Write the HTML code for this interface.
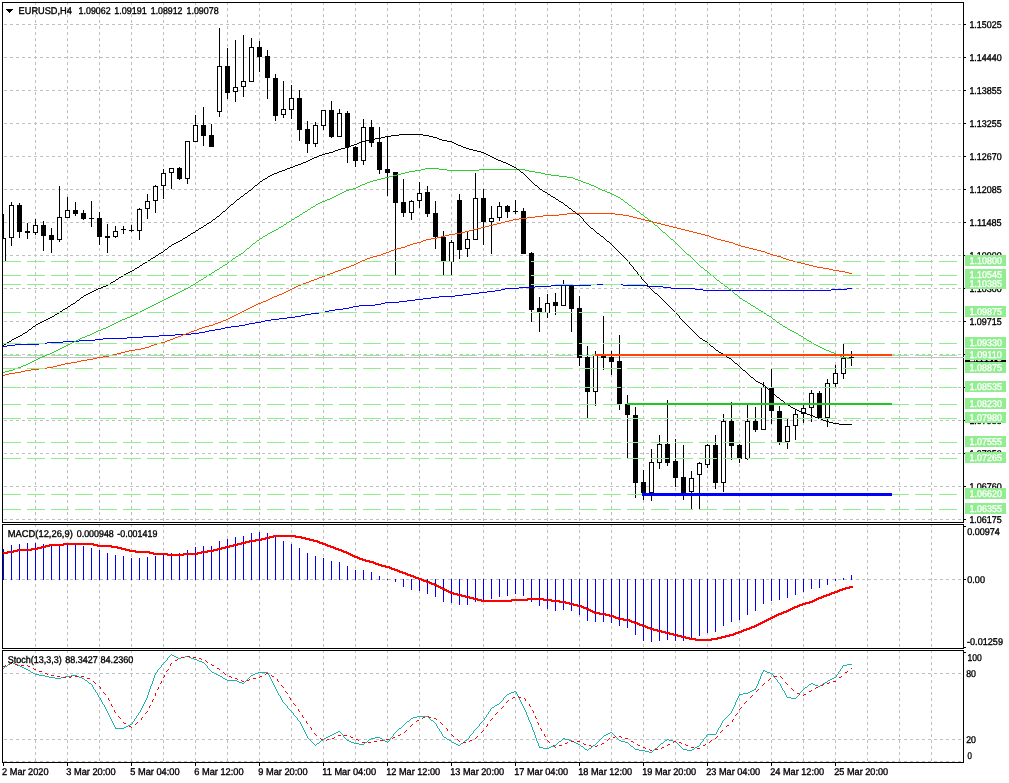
<!DOCTYPE html>
<html><head><meta charset="utf-8"><title>EURUSD,H4</title>
<style>html,body{margin:0;padding:0;background:#fff;overflow:hidden}svg{display:block}text{white-space:pre;text-rendering:geometricPrecision}</style>
</head><body>
<svg width="1009" height="783" viewBox="0 0 1009 783">
<rect width="1009" height="783" fill="#fff"/>
<g stroke="#c0c0c0" stroke-width="1" stroke-dasharray="3 3" shape-rendering="crispEdges">
<line x1="4" y1="24.5" x2="963" y2="24.5"/>
<line x1="4" y1="57.5" x2="963" y2="57.5"/>
<line x1="4" y1="90.5" x2="963" y2="90.5"/>
<line x1="4" y1="123.5" x2="963" y2="123.5"/>
<line x1="4" y1="156.5" x2="963" y2="156.5"/>
<line x1="4" y1="189.5" x2="963" y2="189.5"/>
<line x1="4" y1="222.5" x2="963" y2="222.5"/>
<line x1="4" y1="255.5" x2="963" y2="255.5"/>
<line x1="4" y1="288.5" x2="963" y2="288.5"/>
<line x1="4" y1="321.5" x2="963" y2="321.5"/>
<line x1="4" y1="354.5" x2="963" y2="354.5"/>
<line x1="4" y1="387.5" x2="963" y2="387.5"/>
<line x1="4" y1="420.5" x2="963" y2="420.5"/>
<line x1="4" y1="453.5" x2="963" y2="453.5"/>
<line x1="4" y1="486.5" x2="963" y2="486.5"/>
<line x1="4" y1="519.5" x2="963" y2="519.5"/>
<line x1="35.5" y1="2" x2="35.5" y2="522"/>
<line x1="35.5" y1="524" x2="35.5" y2="648"/>
<line x1="35.5" y1="650" x2="35.5" y2="762"/>
<line x1="67.5" y1="2" x2="67.5" y2="522"/>
<line x1="67.5" y1="524" x2="67.5" y2="648"/>
<line x1="67.5" y1="650" x2="67.5" y2="762"/>
<line x1="99.5" y1="2" x2="99.5" y2="522"/>
<line x1="99.5" y1="524" x2="99.5" y2="648"/>
<line x1="99.5" y1="650" x2="99.5" y2="762"/>
<line x1="131.5" y1="2" x2="131.5" y2="522"/>
<line x1="131.5" y1="524" x2="131.5" y2="648"/>
<line x1="131.5" y1="650" x2="131.5" y2="762"/>
<line x1="163.5" y1="2" x2="163.5" y2="522"/>
<line x1="163.5" y1="524" x2="163.5" y2="648"/>
<line x1="163.5" y1="650" x2="163.5" y2="762"/>
<line x1="195.5" y1="2" x2="195.5" y2="522"/>
<line x1="195.5" y1="524" x2="195.5" y2="648"/>
<line x1="195.5" y1="650" x2="195.5" y2="762"/>
<line x1="227.5" y1="2" x2="227.5" y2="522"/>
<line x1="227.5" y1="524" x2="227.5" y2="648"/>
<line x1="227.5" y1="650" x2="227.5" y2="762"/>
<line x1="259.5" y1="2" x2="259.5" y2="522"/>
<line x1="259.5" y1="524" x2="259.5" y2="648"/>
<line x1="259.5" y1="650" x2="259.5" y2="762"/>
<line x1="291.5" y1="2" x2="291.5" y2="522"/>
<line x1="291.5" y1="524" x2="291.5" y2="648"/>
<line x1="291.5" y1="650" x2="291.5" y2="762"/>
<line x1="323.5" y1="2" x2="323.5" y2="522"/>
<line x1="323.5" y1="524" x2="323.5" y2="648"/>
<line x1="323.5" y1="650" x2="323.5" y2="762"/>
<line x1="355.5" y1="2" x2="355.5" y2="522"/>
<line x1="355.5" y1="524" x2="355.5" y2="648"/>
<line x1="355.5" y1="650" x2="355.5" y2="762"/>
<line x1="387.5" y1="2" x2="387.5" y2="522"/>
<line x1="387.5" y1="524" x2="387.5" y2="648"/>
<line x1="387.5" y1="650" x2="387.5" y2="762"/>
<line x1="419.5" y1="2" x2="419.5" y2="522"/>
<line x1="419.5" y1="524" x2="419.5" y2="648"/>
<line x1="419.5" y1="650" x2="419.5" y2="762"/>
<line x1="451.5" y1="2" x2="451.5" y2="522"/>
<line x1="451.5" y1="524" x2="451.5" y2="648"/>
<line x1="451.5" y1="650" x2="451.5" y2="762"/>
<line x1="483.5" y1="2" x2="483.5" y2="522"/>
<line x1="483.5" y1="524" x2="483.5" y2="648"/>
<line x1="483.5" y1="650" x2="483.5" y2="762"/>
<line x1="515.5" y1="2" x2="515.5" y2="522"/>
<line x1="515.5" y1="524" x2="515.5" y2="648"/>
<line x1="515.5" y1="650" x2="515.5" y2="762"/>
<line x1="547.5" y1="2" x2="547.5" y2="522"/>
<line x1="547.5" y1="524" x2="547.5" y2="648"/>
<line x1="547.5" y1="650" x2="547.5" y2="762"/>
<line x1="579.5" y1="2" x2="579.5" y2="522"/>
<line x1="579.5" y1="524" x2="579.5" y2="648"/>
<line x1="579.5" y1="650" x2="579.5" y2="762"/>
<line x1="611.5" y1="2" x2="611.5" y2="522"/>
<line x1="611.5" y1="524" x2="611.5" y2="648"/>
<line x1="611.5" y1="650" x2="611.5" y2="762"/>
<line x1="643.5" y1="2" x2="643.5" y2="522"/>
<line x1="643.5" y1="524" x2="643.5" y2="648"/>
<line x1="643.5" y1="650" x2="643.5" y2="762"/>
<line x1="675.5" y1="2" x2="675.5" y2="522"/>
<line x1="675.5" y1="524" x2="675.5" y2="648"/>
<line x1="675.5" y1="650" x2="675.5" y2="762"/>
<line x1="707.5" y1="2" x2="707.5" y2="522"/>
<line x1="707.5" y1="524" x2="707.5" y2="648"/>
<line x1="707.5" y1="650" x2="707.5" y2="762"/>
<line x1="739.5" y1="2" x2="739.5" y2="522"/>
<line x1="739.5" y1="524" x2="739.5" y2="648"/>
<line x1="739.5" y1="650" x2="739.5" y2="762"/>
<line x1="771.5" y1="2" x2="771.5" y2="522"/>
<line x1="771.5" y1="524" x2="771.5" y2="648"/>
<line x1="771.5" y1="650" x2="771.5" y2="762"/>
<line x1="803.5" y1="2" x2="803.5" y2="522"/>
<line x1="803.5" y1="524" x2="803.5" y2="648"/>
<line x1="803.5" y1="650" x2="803.5" y2="762"/>
<line x1="835.5" y1="2" x2="835.5" y2="522"/>
<line x1="835.5" y1="524" x2="835.5" y2="648"/>
<line x1="835.5" y1="650" x2="835.5" y2="762"/>
<line x1="867.5" y1="2" x2="867.5" y2="522"/>
<line x1="867.5" y1="524" x2="867.5" y2="648"/>
<line x1="867.5" y1="650" x2="867.5" y2="762"/>
<line x1="899.5" y1="2" x2="899.5" y2="522"/>
<line x1="899.5" y1="524" x2="899.5" y2="648"/>
<line x1="899.5" y1="650" x2="899.5" y2="762"/>
<line x1="931.5" y1="2" x2="931.5" y2="522"/>
<line x1="931.5" y1="524" x2="931.5" y2="648"/>
<line x1="931.5" y1="650" x2="931.5" y2="762"/>
<line x1="4" y1="579.5" x2="963" y2="579.5"/>
<line x1="4" y1="673.5" x2="963" y2="673.5"/>
<line x1="4" y1="739.5" x2="963" y2="739.5"/>
<line x1="4" y1="761.5" x2="963" y2="761.5"/>
</g>
<line x1="3" y1="357.5" x2="963" y2="357.5" stroke="#c0c0c0" stroke-width="1" shape-rendering="crispEdges"/>
<g shape-rendering="crispEdges">
<line x1="3.5" y1="214" x2="3.5" y2="262" stroke="#000" stroke-width="1"/>
<rect x="1.5" y="238.5" width="4" height="23" fill="#fff" stroke="#000" stroke-width="1"/>
<line x1="11.5" y1="202" x2="11.5" y2="246" stroke="#000" stroke-width="1"/>
<rect x="9.5" y="205.5" width="4" height="32" fill="#fff" stroke="#000" stroke-width="1"/>
<line x1="19.5" y1="203" x2="19.5" y2="238" stroke="#000" stroke-width="1"/>
<rect x="17" y="205" width="5" height="27" fill="#000"/>
<line x1="27.5" y1="223" x2="27.5" y2="239" stroke="#000" stroke-width="1"/>
<rect x="25" y="231" width="5" height="2" fill="#000"/>
<line x1="35.5" y1="219" x2="35.5" y2="235" stroke="#000" stroke-width="1"/>
<rect x="33.5" y="225.5" width="4" height="7" fill="#fff" stroke="#000" stroke-width="1"/>
<line x1="43.5" y1="221" x2="43.5" y2="251" stroke="#000" stroke-width="1"/>
<rect x="41" y="225" width="5" height="11" fill="#000"/>
<line x1="51.5" y1="228" x2="51.5" y2="253" stroke="#000" stroke-width="1"/>
<rect x="49" y="235" width="5" height="5" fill="#000"/>
<line x1="59.5" y1="186" x2="59.5" y2="242" stroke="#000" stroke-width="1"/>
<rect x="57.5" y="217.5" width="4" height="22" fill="#fff" stroke="#000" stroke-width="1"/>
<line x1="67.5" y1="197" x2="67.5" y2="218" stroke="#000" stroke-width="1"/>
<rect x="65.5" y="210.5" width="4" height="7" fill="#fff" stroke="#000" stroke-width="1"/>
<line x1="75.5" y1="202" x2="75.5" y2="216" stroke="#000" stroke-width="1"/>
<rect x="73" y="210" width="5" height="4" fill="#000"/>
<line x1="83.5" y1="210" x2="83.5" y2="220" stroke="#000" stroke-width="1"/>
<rect x="81" y="213" width="5" height="6" fill="#000"/>
<line x1="91.5" y1="201" x2="91.5" y2="227" stroke="#000" stroke-width="1"/>
<rect x="89" y="218" width="5" height="1" fill="#000"/>
<line x1="99.5" y1="212" x2="99.5" y2="245" stroke="#000" stroke-width="1"/>
<rect x="97" y="218" width="5" height="19" fill="#000"/>
<line x1="107.5" y1="224" x2="107.5" y2="253" stroke="#000" stroke-width="1"/>
<rect x="105" y="236" width="5" height="2" fill="#000"/>
<line x1="115.5" y1="226" x2="115.5" y2="238" stroke="#000" stroke-width="1"/>
<rect x="113.5" y="231.5" width="4" height="5" fill="#fff" stroke="#000" stroke-width="1"/>
<line x1="123.5" y1="226" x2="123.5" y2="234" stroke="#000" stroke-width="1"/>
<rect x="121" y="229" width="5" height="1" fill="#000"/>
<line x1="131.5" y1="225" x2="131.5" y2="232" stroke="#000" stroke-width="1"/>
<rect x="129" y="230" width="5" height="1" fill="#000"/>
<line x1="139.5" y1="208" x2="139.5" y2="240" stroke="#000" stroke-width="1"/>
<rect x="137.5" y="209.5" width="4" height="21" fill="#fff" stroke="#000" stroke-width="1"/>
<line x1="147.5" y1="194" x2="147.5" y2="219" stroke="#000" stroke-width="1"/>
<rect x="145.5" y="201.5" width="4" height="7" fill="#fff" stroke="#000" stroke-width="1"/>
<line x1="155.5" y1="185" x2="155.5" y2="213" stroke="#000" stroke-width="1"/>
<rect x="153.5" y="186.5" width="4" height="14" fill="#fff" stroke="#000" stroke-width="1"/>
<line x1="163.5" y1="169" x2="163.5" y2="199" stroke="#000" stroke-width="1"/>
<rect x="161.5" y="173.5" width="4" height="12" fill="#fff" stroke="#000" stroke-width="1"/>
<line x1="171.5" y1="168" x2="171.5" y2="189" stroke="#000" stroke-width="1"/>
<rect x="169.5" y="168.5" width="4" height="4" fill="#fff" stroke="#000" stroke-width="1"/>
<line x1="179.5" y1="167" x2="179.5" y2="180" stroke="#000" stroke-width="1"/>
<rect x="177" y="168" width="5" height="11" fill="#000"/>
<line x1="187.5" y1="141" x2="187.5" y2="184" stroke="#000" stroke-width="1"/>
<rect x="185.5" y="141.5" width="4" height="37" fill="#fff" stroke="#000" stroke-width="1"/>
<line x1="195.5" y1="115" x2="195.5" y2="142" stroke="#000" stroke-width="1"/>
<rect x="193.5" y="125.5" width="4" height="16" fill="#fff" stroke="#000" stroke-width="1"/>
<line x1="203.5" y1="107" x2="203.5" y2="146" stroke="#000" stroke-width="1"/>
<rect x="201" y="125" width="5" height="11" fill="#000"/>
<line x1="211.5" y1="124" x2="211.5" y2="147" stroke="#000" stroke-width="1"/>
<rect x="209" y="135" width="5" height="12" fill="#000"/>
<line x1="219.5" y1="28" x2="219.5" y2="117" stroke="#000" stroke-width="1"/>
<rect x="217.5" y="66.5" width="4" height="45" fill="#fff" stroke="#000" stroke-width="1"/>
<line x1="227.5" y1="48" x2="227.5" y2="99" stroke="#000" stroke-width="1"/>
<rect x="225" y="66" width="5" height="27" fill="#000"/>
<line x1="235.5" y1="40" x2="235.5" y2="102" stroke="#000" stroke-width="1"/>
<rect x="233.5" y="87.5" width="4" height="4" fill="#fff" stroke="#000" stroke-width="1"/>
<line x1="243.5" y1="35" x2="243.5" y2="97" stroke="#000" stroke-width="1"/>
<rect x="241.5" y="81.5" width="4" height="5" fill="#fff" stroke="#000" stroke-width="1"/>
<line x1="251.5" y1="38" x2="251.5" y2="82" stroke="#000" stroke-width="1"/>
<rect x="249.5" y="47.5" width="4" height="34" fill="#fff" stroke="#000" stroke-width="1"/>
<line x1="259.5" y1="41" x2="259.5" y2="72" stroke="#000" stroke-width="1"/>
<rect x="257" y="47" width="5" height="10" fill="#000"/>
<line x1="267.5" y1="50" x2="267.5" y2="99" stroke="#000" stroke-width="1"/>
<rect x="265" y="56" width="5" height="22" fill="#000"/>
<line x1="275.5" y1="74" x2="275.5" y2="121" stroke="#000" stroke-width="1"/>
<rect x="273" y="78" width="5" height="38" fill="#000"/>
<line x1="283.5" y1="81" x2="283.5" y2="118" stroke="#000" stroke-width="1"/>
<rect x="281.5" y="109.5" width="4" height="5" fill="#fff" stroke="#000" stroke-width="1"/>
<line x1="291.5" y1="85" x2="291.5" y2="119" stroke="#000" stroke-width="1"/>
<rect x="289.5" y="98.5" width="4" height="11" fill="#fff" stroke="#000" stroke-width="1"/>
<line x1="299.5" y1="90" x2="299.5" y2="141" stroke="#000" stroke-width="1"/>
<rect x="297" y="98" width="5" height="32" fill="#000"/>
<line x1="307.5" y1="121" x2="307.5" y2="153" stroke="#000" stroke-width="1"/>
<rect x="305" y="129" width="5" height="15" fill="#000"/>
<line x1="315.5" y1="122" x2="315.5" y2="147" stroke="#000" stroke-width="1"/>
<rect x="313.5" y="125.5" width="4" height="18" fill="#fff" stroke="#000" stroke-width="1"/>
<line x1="323.5" y1="110" x2="323.5" y2="130" stroke="#000" stroke-width="1"/>
<rect x="321.5" y="110.5" width="4" height="15" fill="#fff" stroke="#000" stroke-width="1"/>
<line x1="331.5" y1="101" x2="331.5" y2="138" stroke="#000" stroke-width="1"/>
<rect x="329" y="110" width="5" height="27" fill="#000"/>
<line x1="339.5" y1="109" x2="339.5" y2="137" stroke="#000" stroke-width="1"/>
<rect x="337.5" y="113.5" width="4" height="23" fill="#fff" stroke="#000" stroke-width="1"/>
<line x1="347.5" y1="111" x2="347.5" y2="163" stroke="#000" stroke-width="1"/>
<rect x="345" y="113" width="5" height="34" fill="#000"/>
<line x1="355.5" y1="146" x2="355.5" y2="167" stroke="#000" stroke-width="1"/>
<rect x="353" y="147" width="5" height="14" fill="#000"/>
<line x1="363.5" y1="119" x2="363.5" y2="165" stroke="#000" stroke-width="1"/>
<rect x="361.5" y="127.5" width="4" height="33" fill="#fff" stroke="#000" stroke-width="1"/>
<line x1="371.5" y1="120" x2="371.5" y2="147" stroke="#000" stroke-width="1"/>
<rect x="369" y="127" width="5" height="16" fill="#000"/>
<line x1="379.5" y1="127" x2="379.5" y2="174" stroke="#000" stroke-width="1"/>
<rect x="377" y="142" width="5" height="28" fill="#000"/>
<line x1="387.5" y1="136" x2="387.5" y2="196" stroke="#000" stroke-width="1"/>
<rect x="385" y="169" width="5" height="4" fill="#000"/>
<line x1="395.5" y1="172" x2="395.5" y2="275" stroke="#000" stroke-width="1"/>
<rect x="393" y="172" width="5" height="31" fill="#000"/>
<line x1="403.5" y1="179" x2="403.5" y2="217" stroke="#000" stroke-width="1"/>
<rect x="401" y="202" width="5" height="11" fill="#000"/>
<line x1="411.5" y1="200" x2="411.5" y2="220" stroke="#000" stroke-width="1"/>
<rect x="409.5" y="201.5" width="4" height="11" fill="#fff" stroke="#000" stroke-width="1"/>
<line x1="419.5" y1="182" x2="419.5" y2="208" stroke="#000" stroke-width="1"/>
<rect x="417.5" y="193.5" width="4" height="7" fill="#fff" stroke="#000" stroke-width="1"/>
<line x1="427.5" y1="186" x2="427.5" y2="217" stroke="#000" stroke-width="1"/>
<rect x="425" y="192" width="5" height="22" fill="#000"/>
<line x1="435.5" y1="201" x2="435.5" y2="249" stroke="#000" stroke-width="1"/>
<rect x="433" y="213" width="5" height="24" fill="#000"/>
<line x1="443.5" y1="231" x2="443.5" y2="275" stroke="#000" stroke-width="1"/>
<rect x="441" y="237" width="5" height="24" fill="#000"/>
<line x1="451.5" y1="240" x2="451.5" y2="275" stroke="#000" stroke-width="1"/>
<rect x="449.5" y="242.5" width="4" height="19" fill="#fff" stroke="#000" stroke-width="1"/>
<line x1="459.5" y1="194" x2="459.5" y2="259" stroke="#000" stroke-width="1"/>
<rect x="457" y="200" width="5" height="50" fill="#000"/>
<line x1="467.5" y1="232" x2="467.5" y2="257" stroke="#000" stroke-width="1"/>
<rect x="465.5" y="239.5" width="4" height="9" fill="#fff" stroke="#000" stroke-width="1"/>
<line x1="475.5" y1="173" x2="475.5" y2="240" stroke="#000" stroke-width="1"/>
<rect x="473.5" y="198.5" width="4" height="41" fill="#fff" stroke="#000" stroke-width="1"/>
<line x1="483.5" y1="189" x2="483.5" y2="245" stroke="#000" stroke-width="1"/>
<rect x="481" y="198" width="5" height="24" fill="#000"/>
<line x1="491.5" y1="206" x2="491.5" y2="254" stroke="#000" stroke-width="1"/>
<rect x="489.5" y="218.5" width="4" height="3" fill="#fff" stroke="#000" stroke-width="1"/>
<line x1="499.5" y1="202" x2="499.5" y2="221" stroke="#000" stroke-width="1"/>
<rect x="497.5" y="206.5" width="4" height="11" fill="#fff" stroke="#000" stroke-width="1"/>
<line x1="507.5" y1="205" x2="507.5" y2="218" stroke="#000" stroke-width="1"/>
<rect x="505" y="206" width="5" height="6" fill="#000"/>
<line x1="515.5" y1="200" x2="515.5" y2="214" stroke="#000" stroke-width="1"/>
<rect x="513" y="211" width="5" height="1" fill="#000"/>
<line x1="523.5" y1="208" x2="523.5" y2="254" stroke="#000" stroke-width="1"/>
<rect x="521" y="211" width="5" height="43" fill="#000"/>
<line x1="531.5" y1="252" x2="531.5" y2="322" stroke="#000" stroke-width="1"/>
<rect x="529" y="253" width="5" height="57" fill="#000"/>
<line x1="539.5" y1="297" x2="539.5" y2="332" stroke="#000" stroke-width="1"/>
<rect x="537" y="308" width="5" height="4" fill="#000"/>
<line x1="547.5" y1="294" x2="547.5" y2="318" stroke="#000" stroke-width="1"/>
<rect x="545.5" y="303.5" width="4" height="9" fill="#fff" stroke="#000" stroke-width="1"/>
<line x1="555.5" y1="293" x2="555.5" y2="315" stroke="#000" stroke-width="1"/>
<rect x="553" y="302" width="5" height="4" fill="#000"/>
<line x1="563.5" y1="280" x2="563.5" y2="306" stroke="#000" stroke-width="1"/>
<rect x="561.5" y="285.5" width="4" height="20" fill="#fff" stroke="#000" stroke-width="1"/>
<line x1="571.5" y1="284" x2="571.5" y2="332" stroke="#000" stroke-width="1"/>
<rect x="569" y="285" width="5" height="24" fill="#000"/>
<line x1="579.5" y1="296" x2="579.5" y2="366" stroke="#000" stroke-width="1"/>
<rect x="577" y="308" width="5" height="50" fill="#000"/>
<line x1="587.5" y1="346" x2="587.5" y2="418" stroke="#000" stroke-width="1"/>
<rect x="585" y="357" width="5" height="35" fill="#000"/>
<line x1="595.5" y1="351" x2="595.5" y2="406" stroke="#000" stroke-width="1"/>
<rect x="593.5" y="355.5" width="4" height="36" fill="#fff" stroke="#000" stroke-width="1"/>
<line x1="603.5" y1="316" x2="603.5" y2="370" stroke="#000" stroke-width="1"/>
<rect x="601" y="356" width="5" height="2" fill="#000"/>
<line x1="611.5" y1="351" x2="611.5" y2="375" stroke="#000" stroke-width="1"/>
<rect x="609" y="357" width="5" height="5" fill="#000"/>
<line x1="619.5" y1="335" x2="619.5" y2="410" stroke="#000" stroke-width="1"/>
<rect x="617" y="361" width="5" height="43" fill="#000"/>
<line x1="627.5" y1="395" x2="627.5" y2="459" stroke="#000" stroke-width="1"/>
<rect x="625" y="404" width="5" height="11" fill="#000"/>
<line x1="635.5" y1="407" x2="635.5" y2="498" stroke="#000" stroke-width="1"/>
<rect x="633" y="415" width="5" height="68" fill="#000"/>
<line x1="643.5" y1="470" x2="643.5" y2="500" stroke="#000" stroke-width="1"/>
<rect x="641" y="482" width="5" height="11" fill="#000"/>
<line x1="651.5" y1="449" x2="651.5" y2="501" stroke="#000" stroke-width="1"/>
<rect x="649.5" y="462.5" width="4" height="30" fill="#fff" stroke="#000" stroke-width="1"/>
<line x1="659.5" y1="435" x2="659.5" y2="469" stroke="#000" stroke-width="1"/>
<rect x="657.5" y="444.5" width="4" height="18" fill="#fff" stroke="#000" stroke-width="1"/>
<line x1="667.5" y1="400" x2="667.5" y2="466" stroke="#000" stroke-width="1"/>
<rect x="665" y="444" width="5" height="19" fill="#000"/>
<line x1="675.5" y1="439" x2="675.5" y2="487" stroke="#000" stroke-width="1"/>
<rect x="673" y="461" width="5" height="17" fill="#000"/>
<line x1="683.5" y1="445" x2="683.5" y2="500" stroke="#000" stroke-width="1"/>
<rect x="681" y="477" width="5" height="16" fill="#000"/>
<line x1="691.5" y1="471" x2="691.5" y2="509" stroke="#000" stroke-width="1"/>
<rect x="689.5" y="478.5" width="4" height="13" fill="#fff" stroke="#000" stroke-width="1"/>
<line x1="699.5" y1="462" x2="699.5" y2="509" stroke="#000" stroke-width="1"/>
<rect x="697.5" y="463.5" width="4" height="11" fill="#fff" stroke="#000" stroke-width="1"/>
<line x1="707.5" y1="444" x2="707.5" y2="468" stroke="#000" stroke-width="1"/>
<rect x="705.5" y="445.5" width="4" height="19" fill="#fff" stroke="#000" stroke-width="1"/>
<line x1="715.5" y1="435" x2="715.5" y2="489" stroke="#000" stroke-width="1"/>
<rect x="713" y="445" width="5" height="38" fill="#000"/>
<line x1="723.5" y1="414" x2="723.5" y2="492" stroke="#000" stroke-width="1"/>
<rect x="721.5" y="421.5" width="4" height="61" fill="#fff" stroke="#000" stroke-width="1"/>
<line x1="731.5" y1="402" x2="731.5" y2="460" stroke="#000" stroke-width="1"/>
<rect x="729" y="421" width="5" height="25" fill="#000"/>
<line x1="739.5" y1="444" x2="739.5" y2="463" stroke="#000" stroke-width="1"/>
<rect x="737" y="445" width="5" height="14" fill="#000"/>
<line x1="747.5" y1="405" x2="747.5" y2="460" stroke="#000" stroke-width="1"/>
<rect x="745.5" y="421.5" width="4" height="37" fill="#fff" stroke="#000" stroke-width="1"/>
<line x1="755.5" y1="407" x2="755.5" y2="432" stroke="#000" stroke-width="1"/>
<rect x="753" y="421" width="5" height="9" fill="#000"/>
<line x1="763.5" y1="382" x2="763.5" y2="430" stroke="#000" stroke-width="1"/>
<rect x="761.5" y="387.5" width="4" height="42" fill="#fff" stroke="#000" stroke-width="1"/>
<line x1="771.5" y1="369" x2="771.5" y2="424" stroke="#000" stroke-width="1"/>
<rect x="769" y="388" width="5" height="23" fill="#000"/>
<line x1="779.5" y1="406" x2="779.5" y2="445" stroke="#000" stroke-width="1"/>
<rect x="777" y="411" width="5" height="31" fill="#000"/>
<line x1="787.5" y1="419" x2="787.5" y2="449" stroke="#000" stroke-width="1"/>
<rect x="785.5" y="426.5" width="4" height="15" fill="#fff" stroke="#000" stroke-width="1"/>
<line x1="795.5" y1="410" x2="795.5" y2="440" stroke="#000" stroke-width="1"/>
<rect x="793.5" y="414.5" width="4" height="11" fill="#fff" stroke="#000" stroke-width="1"/>
<line x1="803.5" y1="405" x2="803.5" y2="423" stroke="#000" stroke-width="1"/>
<rect x="801.5" y="408.5" width="4" height="5" fill="#fff" stroke="#000" stroke-width="1"/>
<line x1="811.5" y1="390" x2="811.5" y2="422" stroke="#000" stroke-width="1"/>
<rect x="809.5" y="393.5" width="4" height="14" fill="#fff" stroke="#000" stroke-width="1"/>
<line x1="819.5" y1="391" x2="819.5" y2="418" stroke="#000" stroke-width="1"/>
<rect x="817" y="393" width="5" height="25" fill="#000"/>
<line x1="827.5" y1="379" x2="827.5" y2="427" stroke="#000" stroke-width="1"/>
<rect x="825.5" y="383.5" width="4" height="34" fill="#fff" stroke="#000" stroke-width="1"/>
<line x1="835.5" y1="365" x2="835.5" y2="387" stroke="#000" stroke-width="1"/>
<rect x="833.5" y="373.5" width="4" height="10" fill="#fff" stroke="#000" stroke-width="1"/>
<line x1="843.5" y1="344" x2="843.5" y2="379" stroke="#000" stroke-width="1"/>
<rect x="841.5" y="358.5" width="4" height="15" fill="#fff" stroke="#000" stroke-width="1"/>
<line x1="851.5" y1="351" x2="851.5" y2="366" stroke="#000" stroke-width="1"/>
<rect x="849" y="357" width="5" height="1" fill="#000"/>
</g>
<path d="M591 284h32v1h-32zM551 285h40v1h-40zM623 285h24v1h-24zM535 286h16v1h-16zM647 286h16v1h-16zM519 287h16v1h-16zM663 287h8v1h-8zM505 288h14v1h-14zM671 288h24v1h-24zM847 288h5v1h-5zM501 289h4v1h-4zM695 289h8v1h-8zM831 289h16v1h-16zM495 290h6v1h-6zM703 290h128v1h-128zM487 291h8v1h-8zM479 292h8v1h-8zM471 293h8v1h-8zM463 294h8v1h-8zM455 295h8v1h-8zM439 296h16v1h-16zM431 297h8v1h-8zM423 298h8v1h-8zM415 299h8v1h-8zM407 300h8v1h-8zM399 301h8v1h-8zM385 302h14v1h-14zM381 303h4v1h-4zM375 304h6v1h-6zM359 305h16v1h-16zM353 306h6v1h-6zM349 307h4v1h-4zM343 308h6v1h-6zM335 309h8v1h-8zM329 310h6v1h-6zM325 311h4v1h-4zM319 312h6v1h-6zM311 313h8v1h-8zM305 314h6v1h-6zM301 315h4v1h-4zM295 316h6v1h-6zM287 317h8v1h-8zM279 318h8v1h-8zM271 319h8v1h-8zM265 320h6v1h-6zM261 321h4v1h-4zM255 322h6v1h-6zM249 323h6v1h-6zM245 324h4v1h-4zM239 325h6v1h-6zM231 326h8v1h-8zM225 327h6v1h-6zM221 328h4v1h-4zM215 329h6v1h-6zM209 330h6v1h-6zM205 331h4v1h-4zM199 332h6v1h-6zM191 333h8v1h-8zM175 334h16v1h-16zM159 335h16v1h-16zM143 336h16v1h-16zM127 337h16v1h-16zM103 338h24v1h-24zM95 339h8v1h-8zM79 340h16v1h-16zM63 341h16v1h-16zM47 342h16v1h-16zM39 343h8v1h-8zM15 344h24v1h-24zM7 345h8v1h-8zM3 346h4v1h-4z" fill="#0000ff" shape-rendering="crispEdges"/>
<path d="M567 213h48v1h-48zM559 214h8v1h-8zM615 214h8v1h-8zM543 215h16v1h-16zM623 215h6v1h-6zM535 216h8v1h-8zM629 216h4v1h-4zM527 217h8v1h-8zM633 217h4v1h-4zM519 218h8v1h-8zM637 218h4v1h-4zM513 219h6v1h-6zM641 219h4v1h-4zM509 220h4v1h-4zM645 220h4v1h-4zM505 221h4v1h-4zM649 221h4v1h-4zM501 222h4v1h-4zM653 222h4v1h-4zM497 223h4v1h-4zM657 223h4v1h-4zM493 224h4v1h-4zM661 224h4v1h-4zM489 225h4v1h-4zM665 225h4v1h-4zM485 226h4v1h-4zM669 226h4v1h-4zM481 227h4v1h-4zM673 227h4v1h-4zM477 228h4v1h-4zM677 228h4v1h-4zM473 229h4v1h-4zM681 229h4v1h-4zM469 230h4v1h-4zM685 230h4v1h-4zM465 231h4v1h-4zM689 231h4v1h-4zM461 232h4v1h-4zM693 232h4v1h-4zM455 233h6v1h-6zM697 233h4v1h-4zM449 234h6v1h-6zM701 234h4v1h-4zM445 235h4v1h-4zM705 235h4v1h-4zM441 236h4v1h-4zM709 236h2v1h-2zM437 237h4v1h-4zM711 237h3v1h-3zM431 238h6v1h-6zM714 238h3v1h-3zM426 239h5v1h-5zM717 239h4v1h-4zM423 240h3v1h-3zM721 240h4v1h-4zM421 241h2v1h-2zM725 241h4v1h-4zM417 242h4v1h-4zM729 242h4v1h-4zM413 243h4v1h-4zM733 243h2v1h-2zM410 244h3v1h-3zM735 244h3v1h-3zM407 245h3v1h-3zM738 245h3v1h-3zM405 246h2v1h-2zM741 246h4v1h-4zM401 247h4v1h-4zM745 247h4v1h-4zM397 248h4v1h-4zM749 248h4v1h-4zM394 249h3v1h-3zM753 249h4v1h-4zM391 250h3v1h-3zM757 250h4v1h-4zM389 251h2v1h-2zM761 251h4v1h-4zM386 252h3v1h-3zM765 252h2v1h-2zM383 253h3v1h-3zM767 253h3v1h-3zM381 254h2v1h-2zM770 254h3v1h-3zM377 255h4v1h-4zM773 255h4v1h-4zM373 256h4v1h-4zM777 256h4v1h-4zM370 257h3v1h-3zM781 257h2v1h-2zM367 258h3v1h-3zM783 258h3v1h-3zM365 259h2v1h-2zM786 259h3v1h-3zM362 260h3v1h-3zM789 260h4v1h-4zM360 261h2v1h-2zM793 261h4v1h-4zM358 262h2v1h-2zM797 262h4v1h-4zM356 263h2v1h-2zM801 263h4v1h-4zM354 264h2v1h-2zM805 264h4v1h-4zM351 265h3v1h-3zM809 265h4v1h-4zM349 266h2v1h-2zM813 266h4v1h-4zM346 267h3v1h-3zM817 267h6v1h-6zM343 268h3v1h-3zM823 268h6v1h-6zM341 269h2v1h-2zM829 269h4v1h-4zM338 270h3v1h-3zM833 270h6v1h-6zM335 271h3v1h-3zM839 271h6v1h-6zM333 272h2v1h-2zM845 272h4v1h-4zM330 273h3v1h-3zM849 273h3v1h-3zM327 274h3v1h-3zM325 275h2v1h-2zM322 276h3v1h-3zM319 277h3v1h-3zM317 278h2v1h-2zM314 279h3v1h-3zM311 280h3v1h-3zM309 281h2v1h-2zM306 282h3v1h-3zM303 283h3v1h-3zM301 284h2v1h-2zM298 285h3v1h-3zM296 286h2v1h-2zM294 287h2v1h-2zM292 288h2v1h-2zM290 289h2v1h-2zM288 290h2v1h-2zM286 291h2v1h-2zM284 292h2v1h-2zM282 293h2v1h-2zM279 294h3v1h-3zM277 295h2v1h-2zM274 296h3v1h-3zM272 297h2v1h-2zM270 298h2v1h-2zM268 299h2v1h-2zM266 300h2v1h-2zM263 301h3v1h-3zM261 302h2v1h-2zM258 303h3v1h-3zM256 304h2v1h-2zM254 305h2v1h-2zM252 306h2v1h-2zM250 307h2v1h-2zM248 308h2v1h-2zM246 309h2v1h-2zM244 310h2v1h-2zM242 311h2v1h-2zM240 312h2v1h-2zM238 313h2v1h-2zM236 314h2v1h-2zM234 315h2v1h-2zM232 316h2v1h-2zM230 317h2v1h-2zM228 318h2v1h-2zM226 319h2v1h-2zM223 320h3v1h-3zM221 321h2v1h-2zM218 322h3v1h-3zM215 323h3v1h-3zM213 324h2v1h-2zM209 325h4v1h-4zM205 326h4v1h-4zM202 327h3v1h-3zM199 328h3v1h-3zM197 329h2v1h-2zM194 330h3v1h-3zM191 331h3v1h-3zM189 332h2v1h-2zM186 333h3v1h-3zM183 334h3v1h-3zM181 335h2v1h-2zM178 336h3v1h-3zM175 337h3v1h-3zM173 338h2v1h-2zM170 339h3v1h-3zM167 340h3v1h-3zM165 341h2v1h-2zM161 342h4v1h-4zM157 343h4v1h-4zM154 344h3v1h-3zM151 345h3v1h-3zM149 346h2v1h-2zM145 347h4v1h-4zM141 348h4v1h-4zM135 349h6v1h-6zM129 350h6v1h-6zM125 351h4v1h-4zM121 352h4v1h-4zM117 353h4v1h-4zM113 354h4v1h-4zM109 355h4v1h-4zM103 356h6v1h-6zM97 357h6v1h-6zM93 358h4v1h-4zM87 359h6v1h-6zM81 360h6v1h-6zM77 361h4v1h-4zM71 362h6v1h-6zM65 363h6v1h-6zM61 364h4v1h-4zM57 365h4v1h-4zM53 366h4v1h-4zM47 367h6v1h-6zM39 368h8v1h-8zM31 369h8v1h-8zM25 370h6v1h-6zM21 371h4v1h-4zM15 372h6v1h-6zM9 373h6v1h-6zM5 374h4v1h-4zM3 375h2v1h-2z" fill="#ff4500" shape-rendering="crispEdges"/>
<path d="M425 168h14v1h-14zM421 169h4v1h-4zM439 169h8v1h-8zM479 169h46v1h-46zM415 170h6v1h-6zM447 170h32v1h-32zM525 170h4v1h-4zM409 171h6v1h-6zM529 171h6v1h-6zM405 172h4v1h-4zM535 172h6v1h-6zM401 173h4v1h-4zM541 173h4v1h-4zM397 174h4v1h-4zM545 174h6v1h-6zM393 175h4v1h-4zM551 175h8v1h-8zM389 176h4v1h-4zM559 176h8v1h-8zM385 177h4v1h-4zM567 177h6v1h-6zM381 178h4v1h-4zM573 178h2v1h-2zM377 179h4v1h-4zM575 179h3v1h-3zM373 180h4v1h-4zM578 180h3v1h-3zM370 181h3v1h-3zM581 181h2v1h-2zM367 182h3v1h-3zM583 182h3v1h-3zM365 183h2v1h-2zM586 183h3v1h-3zM362 184h3v1h-3zM589 184h2v1h-2zM360 185h2v1h-2zM591 185h3v1h-3zM358 186h2v1h-2zM594 186h2v1h-2zM356 187h2v1h-2zM596 187h2v1h-2zM353 188h3v1h-3zM598 188h2v1h-2zM349 189h4v1h-4zM600 189h2v1h-2zM346 190h3v1h-3zM602 190h3v1h-3zM344 191h2v1h-2zM605 191h2v1h-2zM342 192h2v1h-2zM607 192h3v1h-3zM340 193h2v1h-2zM610 193h2v1h-2zM338 194h2v1h-2zM612 194h2v1h-2zM336 195h2v1h-2zM614 195h2v1h-2zM334 196h2v1h-2zM616 196h2v1h-2zM332 197h2v1h-2zM618 197h2v1h-2zM330 198h2v1h-2zM620 198h1v1h-1zM327 199h3v1h-3zM621 199h2v1h-2zM325 200h2v1h-2zM623 200h1v1h-1zM322 201h3v1h-3zM624 201h1v1h-1zM320 202h2v1h-2zM625 202h2v1h-2zM318 203h2v1h-2zM627 203h1v1h-1zM316 204h2v1h-2zM628 204h1v1h-1zM315 205h1v1h-1zM629 205h2v1h-2zM313 206h2v1h-2zM631 206h1v1h-1zM311 207h2v1h-2zM632 207h1v1h-1zM310 208h1v1h-1zM633 208h2v1h-2zM308 209h2v1h-2zM635 209h1v1h-1zM307 210h1v1h-1zM636 210h1v1h-1zM305 211h2v1h-2zM637 211h2v1h-2zM303 212h2v1h-2zM639 212h1v1h-1zM302 213h1v1h-1zM640 213h1v1h-1zM300 214h2v1h-2zM641 214h2v1h-2zM299 215h1v1h-1zM643 215h1v1h-1zM297 216h2v1h-2zM644 216h1v1h-1zM295 217h2v1h-2zM645 217h2v1h-2zM294 218h1v1h-1zM647 218h1v1h-1zM292 219h2v1h-2zM648 219h1v1h-1zM291 220h1v1h-1zM649 220h2v1h-2zM289 221h2v1h-2zM651 221h1v1h-1zM287 222h2v1h-2zM652 222h1v1h-1zM286 223h1v1h-1zM653 223h1v1h-1zM284 224h2v1h-2zM654 224h1v1h-1zM283 225h1v1h-1zM655 225h2v1h-2zM281 226h2v1h-2zM657 226h1v1h-1zM279 227h2v1h-2zM658 227h1v1h-1zM278 228h1v1h-1zM659 228h1v1h-1zM276 229h2v1h-2zM660 229h1v1h-1zM274 230h2v1h-2zM661 230h1v1h-1zM272 231h2v1h-2zM662 231h1v1h-1zM270 232h2v1h-2zM663 232h2v1h-2zM268 233h2v1h-2zM665 233h1v1h-1zM267 234h1v1h-1zM666 234h1v1h-1zM265 235h2v1h-2zM667 235h1v1h-1zM263 236h2v1h-2zM668 236h1v1h-1zM262 237h1v1h-1zM669 237h1v1h-1zM260 238h2v1h-2zM670 238h1v1h-1zM259 239h1v1h-1zM671 239h2v1h-2zM257 240h2v1h-2zM673 240h1v1h-1zM256 241h1v1h-1zM674 241h1v1h-1zM255 242h1v1h-1zM675 242h1v1h-1zM253 243h2v1h-2zM676 243h1v1h-1zM252 244h1v1h-1zM677 244h1v1h-1zM251 245h1v1h-1zM678 245h1v1h-1zM250 246h1v1h-1zM679 246h1v1h-1zM249 247h1v1h-1zM680 247h1v1h-1zM247 248h2v1h-2zM681 248h1v1h-1zM246 249h1v1h-1zM682 249h1v1h-1zM245 250h1v1h-1zM683 250h1v1h-1zM244 251h1v1h-1zM684 251h1v1h-1zM243 252h1v1h-1zM685 252h1v1h-1zM241 253h2v1h-2zM686 253h1v1h-1zM239 254h2v1h-2zM687 254h2v1h-2zM238 255h1v1h-1zM689 255h1v1h-1zM236 256h2v1h-2zM690 256h1v1h-1zM235 257h1v1h-1zM691 257h1v1h-1zM233 258h2v1h-2zM692 258h1v1h-1zM232 259h1v1h-1zM693 259h1v1h-1zM231 260h1v1h-1zM694 260h1v1h-1zM229 261h2v1h-2zM695 261h1v1h-1zM228 262h1v1h-1zM696 262h1v1h-1zM227 263h1v1h-1zM697 263h1v1h-1zM225 264h2v1h-2zM698 264h1v1h-1zM223 265h2v1h-2zM699 265h1v1h-1zM222 266h1v1h-1zM700 266h1v1h-1zM220 267h2v1h-2zM701 267h2v1h-2zM219 268h1v1h-1zM703 268h1v1h-1zM217 269h2v1h-2zM704 269h1v1h-1zM215 270h2v1h-2zM705 270h2v1h-2zM214 271h1v1h-1zM707 271h1v1h-1zM212 272h2v1h-2zM708 272h1v1h-1zM211 273h1v1h-1zM709 273h1v1h-1zM209 274h2v1h-2zM710 274h1v1h-1zM207 275h2v1h-2zM711 275h2v1h-2zM206 276h1v1h-1zM713 276h1v1h-1zM204 277h2v1h-2zM714 277h1v1h-1zM203 278h1v1h-1zM715 278h1v1h-1zM201 279h2v1h-2zM716 279h1v1h-1zM199 280h2v1h-2zM717 280h2v1h-2zM198 281h1v1h-1zM719 281h1v1h-1zM196 282h2v1h-2zM720 282h1v1h-1zM195 283h1v1h-1zM721 283h2v1h-2zM193 284h2v1h-2zM723 284h1v1h-1zM191 285h2v1h-2zM724 285h1v1h-1zM190 286h1v1h-1zM725 286h2v1h-2zM188 287h2v1h-2zM727 287h1v1h-1zM186 288h2v1h-2zM728 288h1v1h-1zM184 289h2v1h-2zM729 289h2v1h-2zM182 290h2v1h-2zM731 290h1v1h-1zM180 291h2v1h-2zM732 291h1v1h-1zM178 292h2v1h-2zM733 292h1v1h-1zM176 293h2v1h-2zM734 293h1v1h-1zM174 294h2v1h-2zM735 294h2v1h-2zM172 295h2v1h-2zM737 295h1v1h-1zM170 296h2v1h-2zM738 296h1v1h-1zM168 297h2v1h-2zM739 297h1v1h-1zM166 298h2v1h-2zM740 298h2v1h-2zM164 299h2v1h-2zM742 299h1v1h-1zM162 300h2v1h-2zM743 300h2v1h-2zM160 301h2v1h-2zM745 301h2v1h-2zM158 302h2v1h-2zM747 302h1v1h-1zM156 303h2v1h-2zM748 303h2v1h-2zM154 304h2v1h-2zM750 304h1v1h-1zM152 305h2v1h-2zM751 305h2v1h-2zM150 306h2v1h-2zM753 306h2v1h-2zM148 307h2v1h-2zM755 307h1v1h-1zM146 308h2v1h-2zM756 308h2v1h-2zM144 309h2v1h-2zM758 309h1v1h-1zM142 310h2v1h-2zM759 310h2v1h-2zM140 311h2v1h-2zM761 311h2v1h-2zM138 312h2v1h-2zM763 312h1v1h-1zM136 313h2v1h-2zM764 313h2v1h-2zM134 314h2v1h-2zM766 314h1v1h-1zM132 315h2v1h-2zM767 315h2v1h-2zM130 316h2v1h-2zM769 316h2v1h-2zM127 317h3v1h-3zM771 317h1v1h-1zM125 318h2v1h-2zM772 318h1v1h-1zM122 319h3v1h-3zM773 319h2v1h-2zM120 320h2v1h-2zM775 320h1v1h-1zM118 321h2v1h-2zM776 321h1v1h-1zM116 322h2v1h-2zM777 322h2v1h-2zM114 323h2v1h-2zM779 323h1v1h-1zM112 324h2v1h-2zM780 324h2v1h-2zM110 325h2v1h-2zM782 325h1v1h-1zM108 326h2v1h-2zM783 326h2v1h-2zM106 327h2v1h-2zM785 327h2v1h-2zM103 328h3v1h-3zM787 328h1v1h-1zM101 329h2v1h-2zM788 329h2v1h-2zM98 330h3v1h-3zM790 330h2v1h-2zM96 331h2v1h-2zM792 331h2v1h-2zM94 332h2v1h-2zM794 332h2v1h-2zM92 333h2v1h-2zM796 333h2v1h-2zM90 334h2v1h-2zM798 334h1v1h-1zM87 335h3v1h-3zM799 335h2v1h-2zM85 336h2v1h-2zM801 336h2v1h-2zM82 337h3v1h-3zM803 337h1v1h-1zM80 338h2v1h-2zM804 338h2v1h-2zM78 339h2v1h-2zM806 339h1v1h-1zM76 340h2v1h-2zM807 340h2v1h-2zM74 341h2v1h-2zM809 341h2v1h-2zM72 342h2v1h-2zM811 342h1v1h-1zM70 343h2v1h-2zM812 343h2v1h-2zM68 344h2v1h-2zM814 344h2v1h-2zM66 345h2v1h-2zM816 345h2v1h-2zM64 346h2v1h-2zM818 346h2v1h-2zM62 347h2v1h-2zM820 347h2v1h-2zM60 348h2v1h-2zM822 348h2v1h-2zM58 349h2v1h-2zM824 349h2v1h-2zM56 350h2v1h-2zM826 350h3v1h-3zM54 351h2v1h-2zM829 351h2v1h-2zM52 352h2v1h-2zM831 352h3v1h-3zM50 353h2v1h-2zM834 353h2v1h-2zM47 354h3v1h-3zM836 354h2v1h-2zM45 355h2v1h-2zM838 355h2v1h-2zM42 356h3v1h-3zM840 356h2v1h-2zM40 357h2v1h-2zM842 357h5v1h-5zM38 358h2v1h-2zM847 358h5v1h-5zM36 359h2v1h-2zM34 360h2v1h-2zM32 361h2v1h-2zM30 362h2v1h-2zM28 363h2v1h-2zM26 364h2v1h-2zM23 365h3v1h-3zM21 366h2v1h-2zM18 367h3v1h-3zM15 368h3v1h-3zM13 369h2v1h-2zM9 370h4v1h-4zM5 371h4v1h-4zM3 372h2v1h-2z" fill="#32cd32" shape-rendering="crispEdges"/>
<path d="M399 134h24v1h-24zM391 135h8v1h-8zM423 135h6v1h-6zM385 136h6v1h-6zM429 136h4v1h-4zM381 137h4v1h-4zM433 137h4v1h-4zM375 138h6v1h-6zM437 138h2v1h-2zM369 139h6v1h-6zM439 139h3v1h-3zM365 140h4v1h-4zM442 140h5v1h-5zM362 141h3v1h-3zM447 141h5v1h-5zM359 142h3v1h-3zM452 142h2v1h-2zM357 143h2v1h-2zM454 143h2v1h-2zM354 144h3v1h-3zM456 144h2v1h-2zM351 145h3v1h-3zM458 145h3v1h-3zM349 146h2v1h-2zM461 146h2v1h-2zM345 147h4v1h-4zM463 147h3v1h-3zM341 148h4v1h-4zM466 148h3v1h-3zM338 149h3v1h-3zM469 149h4v1h-4zM335 150h3v1h-3zM473 150h4v1h-4zM333 151h2v1h-2zM477 151h4v1h-4zM329 152h4v1h-4zM481 152h3v1h-3zM325 153h4v1h-4zM484 153h2v1h-2zM322 154h3v1h-3zM486 154h2v1h-2zM319 155h3v1h-3zM488 155h2v1h-2zM317 156h2v1h-2zM490 156h2v1h-2zM314 157h3v1h-3zM492 157h2v1h-2zM312 158h2v1h-2zM494 158h2v1h-2zM310 159h2v1h-2zM496 159h2v1h-2zM308 160h2v1h-2zM498 160h3v1h-3zM306 161h2v1h-2zM501 161h2v1h-2zM303 162h3v1h-3zM503 162h3v1h-3zM301 163h2v1h-2zM506 163h2v1h-2zM298 164h3v1h-3zM508 164h2v1h-2zM295 165h3v1h-3zM510 165h2v1h-2zM293 166h2v1h-2zM512 166h2v1h-2zM290 167h3v1h-3zM514 167h2v1h-2zM287 168h3v1h-3zM516 168h1v1h-1zM285 169h2v1h-2zM517 169h2v1h-2zM282 170h3v1h-3zM519 170h1v1h-1zM279 171h3v1h-3zM520 171h1v1h-1zM277 172h2v1h-2zM521 172h2v1h-2zM274 173h3v1h-3zM523 173h1v1h-1zM272 174h2v1h-2zM524 174h1v1h-1zM270 175h2v1h-2zM525 175h1v1h-1zM268 176h2v1h-2zM526 176h1v1h-1zM267 177h1v1h-1zM527 177h1v1h-1zM265 178h2v1h-2zM528 178h1v1h-1zM263 179h2v1h-2zM529 179h1v1h-1zM262 180h1v1h-1zM530 180h1v1h-1zM260 181h2v1h-2zM531 181h1v1h-1zM259 182h1v1h-1zM532 182h1v1h-1zM258 183h1v1h-1zM533 183h1v1h-1zM257 184h1v1h-1zM534 184h1v1h-1zM255 185h2v1h-2zM535 185h2v1h-2zM254 186h1v1h-1zM537 186h1v1h-1zM253 187h1v1h-1zM538 187h1v1h-1zM252 188h1v1h-1zM539 188h1v1h-1zM251 189h1v1h-1zM540 189h2v1h-2zM249 190h2v1h-2zM542 190h1v1h-1zM248 191h1v1h-1zM543 191h2v1h-2zM247 192h1v1h-1zM545 192h2v1h-2zM245 193h2v1h-2zM547 193h1v1h-1zM244 194h1v1h-1zM548 194h2v1h-2zM243 195h1v1h-1zM550 195h1v1h-1zM241 196h2v1h-2zM551 196h2v1h-2zM240 197h1v1h-1zM553 197h2v1h-2zM239 198h1v1h-1zM555 198h1v1h-1zM237 199h2v1h-2zM556 199h2v1h-2zM236 200h1v1h-1zM558 200h1v1h-1zM235 201h1v1h-1zM559 201h2v1h-2zM234 202h1v1h-1zM561 202h2v1h-2zM233 203h1v1h-1zM563 203h1v1h-1zM231 204h2v1h-2zM564 204h1v1h-1zM230 205h1v1h-1zM565 205h2v1h-2zM229 206h1v1h-1zM567 206h1v1h-1zM228 207h1v1h-1zM568 207h1v1h-1zM227 208h1v1h-1zM569 208h2v1h-2zM226 209h1v1h-1zM571 209h1v1h-1zM225 210h1v1h-1zM572 210h1v1h-1zM223 211h2v1h-2zM573 211h2v1h-2zM222 212h1v1h-1zM575 212h1v1h-1zM221 213h1v1h-1zM576 213h1v1h-1zM220 214h1v1h-1zM577 214h2v1h-2zM219 215h1v1h-1zM579 215h1v1h-1zM217 216h2v1h-2zM580 216h1v1h-1zM216 217h1v1h-1zM581 217h1v1h-1zM215 218h1v1h-1zM582 218h1v1h-1zM213 219h2v1h-2zM583 219h1v1h-1zM212 220h1v1h-1zM583 220h1v1h-1zM211 221h1v1h-1zM584 221h1v1h-1zM209 222h2v1h-2zM585 222h1v1h-1zM207 223h2v1h-2zM586 223h1v1h-1zM206 224h1v1h-1zM587 224h1v1h-1zM204 225h2v1h-2zM588 225h1v1h-1zM203 226h1v1h-1zM589 226h1v1h-1zM201 227h2v1h-2zM590 227h1v1h-1zM199 228h2v1h-2zM591 228h2v1h-2zM198 229h1v1h-1zM593 229h1v1h-1zM196 230h2v1h-2zM594 230h1v1h-1zM195 231h1v1h-1zM595 231h1v1h-1zM193 232h2v1h-2zM596 232h1v1h-1zM191 233h2v1h-2zM597 233h2v1h-2zM190 234h1v1h-1zM599 234h1v1h-1zM188 235h2v1h-2zM600 235h1v1h-1zM187 236h1v1h-1zM601 236h2v1h-2zM185 237h2v1h-2zM603 237h1v1h-1zM183 238h2v1h-2zM604 238h1v1h-1zM182 239h1v1h-1zM605 239h1v1h-1zM180 240h2v1h-2zM606 240h1v1h-1zM178 241h2v1h-2zM607 241h2v1h-2zM176 242h2v1h-2zM609 242h1v1h-1zM174 243h2v1h-2zM610 243h1v1h-1zM172 244h2v1h-2zM611 244h1v1h-1zM171 245h1v1h-1zM612 245h1v1h-1zM169 246h2v1h-2zM613 246h1v1h-1zM168 247h1v1h-1zM614 247h1v1h-1zM167 248h1v1h-1zM615 248h1v1h-1zM165 249h2v1h-2zM616 249h1v1h-1zM164 250h1v1h-1zM617 250h1v1h-1zM163 251h1v1h-1zM618 251h1v1h-1zM161 252h2v1h-2zM619 252h1v1h-1zM159 253h2v1h-2zM620 253h1v1h-1zM158 254h1v1h-1zM621 254h1v1h-1zM156 255h2v1h-2zM622 255h1v1h-1zM155 256h1v1h-1zM623 256h1v1h-1zM153 257h2v1h-2zM624 257h1v1h-1zM151 258h2v1h-2zM625 258h1v1h-1zM150 259h1v1h-1zM626 259h1v1h-1zM148 260h2v1h-2zM627 260h1v1h-1zM147 261h1v1h-1zM628 261h1v1h-1zM145 262h2v1h-2zM629 262h1v1h-1zM143 263h2v1h-2zM629 263h1v1h-1zM142 264h1v1h-1zM630 264h1v1h-1zM140 265h2v1h-2zM631 265h1v1h-1zM139 266h1v1h-1zM632 266h1v1h-1zM137 267h2v1h-2zM633 267h1v1h-1zM135 268h2v1h-2zM633 268h1v1h-1zM134 269h1v1h-1zM634 269h1v1h-1zM132 270h2v1h-2zM635 270h1v1h-1zM130 271h2v1h-2zM636 271h1v1h-1zM128 272h2v1h-2zM637 272h1v1h-1zM126 273h2v1h-2zM637 273h1v1h-1zM124 274h2v1h-2zM638 274h1v1h-1zM123 275h1v1h-1zM639 275h1v1h-1zM121 276h2v1h-2zM640 276h1v1h-1zM119 277h2v1h-2zM641 277h1v1h-1zM118 278h1v1h-1zM641 278h1v1h-1zM116 279h2v1h-2zM642 279h1v1h-1zM115 280h1v1h-1zM643 280h1v1h-1zM113 281h2v1h-2zM644 281h1v1h-1zM111 282h2v1h-2zM645 282h1v1h-1zM110 283h1v1h-1zM646 283h1v1h-1zM108 284h2v1h-2zM647 284h1v1h-1zM106 285h2v1h-2zM647 285h1v1h-1zM103 286h3v1h-3zM648 286h1v1h-1zM101 287h2v1h-2zM649 287h1v1h-1zM98 288h3v1h-3zM650 288h1v1h-1zM96 289h2v1h-2zM651 289h1v1h-1zM94 290h2v1h-2zM652 290h1v1h-1zM92 291h2v1h-2zM653 291h1v1h-1zM90 292h2v1h-2zM654 292h1v1h-1zM88 293h2v1h-2zM655 293h2v1h-2zM86 294h2v1h-2zM657 294h1v1h-1zM84 295h2v1h-2zM658 295h1v1h-1zM83 296h1v1h-1zM659 296h1v1h-1zM81 297h2v1h-2zM660 297h1v1h-1zM80 298h1v1h-1zM661 298h1v1h-1zM79 299h1v1h-1zM662 299h1v1h-1zM77 300h2v1h-2zM663 300h1v1h-1zM76 301h1v1h-1zM664 301h1v1h-1zM75 302h1v1h-1zM665 302h1v1h-1zM73 303h2v1h-2zM666 303h1v1h-1zM71 304h2v1h-2zM667 304h1v1h-1zM70 305h1v1h-1zM668 305h1v1h-1zM68 306h2v1h-2zM669 306h1v1h-1zM67 307h1v1h-1zM670 307h1v1h-1zM65 308h2v1h-2zM671 308h1v1h-1zM63 309h2v1h-2zM672 309h1v1h-1zM62 310h1v1h-1zM673 310h1v1h-1zM60 311h2v1h-2zM674 311h1v1h-1zM59 312h1v1h-1zM675 312h1v1h-1zM57 313h2v1h-2zM676 313h1v1h-1zM55 314h2v1h-2zM677 314h1v1h-1zM54 315h1v1h-1zM678 315h1v1h-1zM52 316h2v1h-2zM679 316h1v1h-1zM50 317h2v1h-2zM679 317h1v1h-1zM48 318h2v1h-2zM680 318h1v1h-1zM46 319h2v1h-2zM681 319h1v1h-1zM44 320h2v1h-2zM682 320h1v1h-1zM42 321h2v1h-2zM683 321h1v1h-1zM40 322h2v1h-2zM684 322h1v1h-1zM38 323h2v1h-2zM685 323h1v1h-1zM36 324h2v1h-2zM686 324h1v1h-1zM35 325h1v1h-1zM687 325h1v1h-1zM33 326h2v1h-2zM688 326h1v1h-1zM32 327h1v1h-1zM689 327h1v1h-1zM31 328h1v1h-1zM690 328h1v1h-1zM29 329h2v1h-2zM691 329h1v1h-1zM28 330h1v1h-1zM692 330h1v1h-1zM27 331h1v1h-1zM693 331h1v1h-1zM25 332h2v1h-2zM694 332h1v1h-1zM23 333h2v1h-2zM695 333h1v1h-1zM22 334h1v1h-1zM696 334h1v1h-1zM20 335h2v1h-2zM697 335h1v1h-1zM18 336h2v1h-2zM698 336h1v1h-1zM16 337h2v1h-2zM699 337h1v1h-1zM14 338h2v1h-2zM700 338h2v1h-2zM12 339h2v1h-2zM702 339h1v1h-1zM11 340h1v1h-1zM703 340h2v1h-2zM9 341h2v1h-2zM705 341h2v1h-2zM7 342h2v1h-2zM707 342h1v1h-1zM6 343h1v1h-1zM708 343h1v1h-1zM4 344h2v1h-2zM709 344h1v1h-1zM3 345h1v1h-1zM710 345h1v1h-1zM711 346h2v1h-2zM713 347h1v1h-1zM714 348h1v1h-1zM715 349h1v1h-1zM716 350h2v1h-2zM718 351h1v1h-1zM719 352h2v1h-2zM721 353h2v1h-2zM723 354h1v1h-1zM724 355h2v1h-2zM726 356h1v1h-1zM727 357h2v1h-2zM729 358h2v1h-2zM731 359h1v1h-1zM732 360h1v1h-1zM733 361h1v1h-1zM734 362h1v1h-1zM735 363h2v1h-2zM737 364h1v1h-1zM738 365h1v1h-1zM739 366h1v1h-1zM740 367h1v1h-1zM741 368h1v1h-1zM742 369h1v1h-1zM743 370h2v1h-2zM745 371h1v1h-1zM746 372h1v1h-1zM747 373h1v1h-1zM748 374h1v1h-1zM749 375h1v1h-1zM750 376h1v1h-1zM751 377h2v1h-2zM753 378h1v1h-1zM754 379h1v1h-1zM755 380h1v1h-1zM756 381h2v1h-2zM758 382h2v1h-2zM760 383h2v1h-2zM762 384h2v1h-2zM764 385h1v1h-1zM765 386h1v1h-1zM766 387h1v1h-1zM767 388h1v1h-1zM768 389h1v1h-1zM769 390h1v1h-1zM770 391h1v1h-1zM771 392h1v1h-1zM772 393h1v1h-1zM773 394h2v1h-2zM775 395h1v1h-1zM776 396h1v1h-1zM777 397h2v1h-2zM779 398h1v1h-1zM780 399h1v1h-1zM781 400h2v1h-2zM783 401h1v1h-1zM784 402h1v1h-1zM785 403h2v1h-2zM787 404h1v1h-1zM788 405h2v1h-2zM790 406h1v1h-1zM791 407h2v1h-2zM793 408h2v1h-2zM795 409h2v1h-2zM797 410h2v1h-2zM799 411h3v1h-3zM802 412h3v1h-3zM805 413h2v1h-2zM807 414h3v1h-3zM810 415h3v1h-3zM813 416h2v1h-2zM815 417h3v1h-3zM818 418h3v1h-3zM821 419h2v1h-2zM823 420h3v1h-3zM826 421h3v1h-3zM829 422h4v1h-4zM833 423h6v1h-6zM839 424h13v1h-13z" fill="#000000" shape-rendering="crispEdges"/>
<g stroke="#90ee90" stroke-width="1" stroke-dasharray="18 6" shape-rendering="crispEdges">
<line x1="3" y1="261.5" x2="963" y2="261.5"/>
<line x1="3" y1="275.5" x2="963" y2="275.5"/>
<line x1="3" y1="284.5" x2="963" y2="284.5"/>
<line x1="3" y1="312.5" x2="963" y2="312.5"/>
<line x1="3" y1="343.5" x2="963" y2="343.5"/>
<line x1="3" y1="355.5" x2="963" y2="355.5"/>
<line x1="3" y1="368.5" x2="963" y2="368.5"/>
<line x1="3" y1="387.5" x2="963" y2="387.5"/>
<line x1="3" y1="404.5" x2="963" y2="404.5"/>
<line x1="3" y1="418.5" x2="963" y2="418.5"/>
<line x1="3" y1="442.5" x2="963" y2="442.5"/>
<line x1="3" y1="458.5" x2="963" y2="458.5"/>
<line x1="3" y1="494.5" x2="963" y2="494.5"/>
<line x1="3" y1="509.5" x2="963" y2="509.5"/>
</g>
<g shape-rendering="crispEdges">
<rect x="595" y="354" width="297" height="2" fill="#ff4500"/>
<rect x="627" y="403" width="265" height="2" fill="#1ec81e"/>
<rect x="642" y="493" width="250" height="3" fill="#0000ff"/>
</g>
<path d="M3 549h1v31h-1zM11 545h1v35h-1zM19 544h1v36h-1zM27 543h1v37h-1zM35 543h1v37h-1zM43 544h1v36h-1zM51 545h1v35h-1zM59 545h1v35h-1zM67 544h1v36h-1zM75 545h1v35h-1zM83 546h1v34h-1zM91 548h1v32h-1zM99 550h1v30h-1zM107 553h1v27h-1zM115 555h1v25h-1zM123 556h1v24h-1zM131 558h1v22h-1zM139 558h1v22h-1zM147 557h1v23h-1zM155 556h1v24h-1zM163 555h1v25h-1zM171 553h1v27h-1zM179 553h1v27h-1zM187 550h1v30h-1zM195 547h1v33h-1zM203 546h1v34h-1zM211 546h1v34h-1zM219 541h1v39h-1zM227 539h1v41h-1zM235 537h1v43h-1zM243 536h1v44h-1zM251 533h1v47h-1zM259 532h1v48h-1zM267 533h1v47h-1zM275 537h1v43h-1zM283 541h1v39h-1zM291 544h1v36h-1zM299 548h1v32h-1zM307 553h1v27h-1zM315 556h1v24h-1zM323 558h1v22h-1zM331 561h1v19h-1zM339 562h1v18h-1zM347 566h1v14h-1zM355 570h1v10h-1zM363 570h1v10h-1zM371 572h1v8h-1zM379 576h1v4h-1zM387 579h1v1h-1zM395 579h1v3h-1zM403 579h1v8h-1zM411 579h1v11h-1zM419 579h1v12h-1zM427 579h1v15h-1zM435 579h1v18h-1zM443 579h1v23h-1zM451 579h1v24h-1zM459 579h1v26h-1zM467 579h1v26h-1zM475 579h1v23h-1zM483 579h1v21h-1zM491 579h1v20h-1zM499 579h1v18h-1zM507 579h1v17h-1zM515 579h1v15h-1zM523 579h1v17h-1zM531 579h1v23h-1zM539 579h1v27h-1zM547 579h1v30h-1zM555 579h1v32h-1zM563 579h1v31h-1zM571 579h1v32h-1zM579 579h1v36h-1zM587 579h1v42h-1zM595 579h1v43h-1zM603 579h1v43h-1zM611 579h1v44h-1zM619 579h1v47h-1zM627 579h1v49h-1zM635 579h1v56h-1zM643 579h1v62h-1zM651 579h1v63h-1zM659 579h1v62h-1zM667 579h1v61h-1zM675 579h1v62h-1zM683 579h1v62h-1zM691 579h1v60h-1zM699 579h1v57h-1zM707 579h1v54h-1zM715 579h1v53h-1zM723 579h1v47h-1zM731 579h1v43h-1zM739 579h1v41h-1zM747 579h1v36h-1zM755 579h1v32h-1zM763 579h1v25h-1zM771 579h1v22h-1zM779 579h1v21h-1zM787 579h1v19h-1zM795 579h1v16h-1zM803 579h1v13h-1zM811 579h1v10h-1zM819 579h1v9h-1zM827 579h1v6h-1zM835 579h1v2h-1zM843 578h1v2h-1zM851 575h1v5h-1z" fill="#0000ff" shape-rendering="crispEdges"/>
<path d="M273 535h23v1h-23zM269 536h33v1h-33zM265 537h9v1h-9zM295 537h11v1h-11zM261 538h9v1h-9zM301 538h9v1h-9zM255 539h11v1h-11zM305 539h9v1h-9zM249 540h13v1h-13zM309 540h9v1h-9zM245 541h11v1h-11zM313 541h7v1h-7zM241 542h9v1h-9zM317 542h6v1h-6zM63 543h31v1h-31zM237 543h9v1h-9zM319 543h7v1h-7zM49 544h49v1h-49zM233 544h9v1h-9zM322 544h6v1h-6zM45 545h19v1h-19zM93 545h19v1h-19zM229 545h9v1h-9zM325 545h6v1h-6zM41 546h9v1h-9zM97 546h21v1h-21zM225 546h9v1h-9zM327 546h7v1h-7zM37 547h9v1h-9zM111 547h11v1h-11zM221 547h9v1h-9zM330 547h6v1h-6zM31 548h11v1h-11zM117 548h9v1h-9zM217 548h9v1h-9zM333 548h6v1h-6zM17 549h21v1h-21zM121 549h9v1h-9zM213 549h9v1h-9zM335 549h7v1h-7zM13 550h19v1h-19zM125 550h11v1h-11zM207 550h11v1h-11zM338 550h6v1h-6zM7 551h11v1h-11zM129 551h21v1h-21zM201 551h13v1h-13zM341 551h6v1h-6zM3 552h11v1h-11zM135 552h19v1h-19zM197 552h11v1h-11zM343 552h6v1h-6zM3 553h5v1h-5zM149 553h19v1h-19zM183 553h19v1h-19zM346 553h5v1h-5zM153 554h45v1h-45zM348 554h5v1h-5zM167 555h17v1h-17zM350 555h5v1h-5zM352 556h6v1h-6zM354 557h6v1h-6zM357 558h6v1h-6zM359 559h7v1h-7zM362 560h8v1h-8zM365 561h9v1h-9zM369 562h7v1h-7zM373 563h6v1h-6zM375 564h7v1h-7zM378 565h8v1h-8zM381 566h9v1h-9zM385 567h7v1h-7zM389 568h6v1h-6zM391 569h7v1h-7zM394 570h6v1h-6zM397 571h6v1h-6zM399 572h7v1h-7zM402 573h6v1h-6zM405 574h6v1h-6zM407 575h7v1h-7zM410 576h6v1h-6zM413 577h6v1h-6zM415 578h7v1h-7zM418 579h6v1h-6zM421 580h6v1h-6zM423 581h7v1h-7zM426 582h6v1h-6zM429 583h6v1h-6zM431 584h6v1h-6zM434 585h5v1h-5zM436 586h5v1h-5zM849 586h4v1h-4zM438 587h5v1h-5zM845 587h8v1h-8zM440 588h5v1h-5zM842 588h8v1h-8zM442 589h5v1h-5zM839 589h7v1h-7zM444 590h5v1h-5zM837 590h6v1h-6zM446 591h5v1h-5zM834 591h6v1h-6zM448 592h6v1h-6zM831 592h7v1h-7zM450 593h8v1h-8zM829 593h6v1h-6zM453 594h9v1h-9zM826 594h6v1h-6zM457 595h9v1h-9zM823 595h7v1h-7zM461 596h9v1h-9zM821 596h6v1h-6zM465 597h9v1h-9zM818 597h6v1h-6zM469 598h9v1h-9zM527 598h17v1h-17zM816 598h6v1h-6zM473 599h9v1h-9zM511 599h41v1h-41zM814 599h5v1h-5zM477 600h51v1h-51zM543 600h17v1h-17zM812 600h5v1h-5zM481 601h31v1h-31zM551 601h15v1h-15zM809 601h6v1h-6zM559 602h11v1h-11zM805 602h8v1h-8zM565 603h9v1h-9zM802 603h8v1h-8zM569 604h9v1h-9zM799 604h7v1h-7zM573 605h9v1h-9zM797 605h6v1h-6zM577 606h7v1h-7zM794 606h6v1h-6zM581 607h6v1h-6zM792 607h6v1h-6zM583 608h6v1h-6zM790 608h5v1h-5zM586 609h5v1h-5zM788 609h5v1h-5zM588 610h5v1h-5zM786 610h5v1h-5zM590 611h5v1h-5zM783 611h6v1h-6zM592 612h8v1h-8zM781 612h6v1h-6zM594 613h12v1h-12zM778 613h6v1h-6zM599 614h11v1h-11zM776 614h6v1h-6zM605 615h9v1h-9zM774 615h5v1h-5zM609 616h7v1h-7zM772 616h5v1h-5zM613 617h6v1h-6zM770 617h5v1h-5zM615 618h9v1h-9zM768 618h5v1h-5zM618 619h12v1h-12zM766 619h5v1h-5zM623 620h9v1h-9zM764 620h5v1h-5zM629 621h6v1h-6zM762 621h5v1h-5zM631 622h7v1h-7zM760 622h5v1h-5zM634 623h6v1h-6zM758 623h5v1h-5zM637 624h6v1h-6zM756 624h5v1h-5zM639 625h7v1h-7zM754 625h5v1h-5zM642 626h6v1h-6zM751 626h6v1h-6zM645 627h6v1h-6zM749 627h6v1h-6zM647 628h7v1h-7zM746 628h6v1h-6zM650 629h8v1h-8zM743 629h7v1h-7zM653 630h9v1h-9zM741 630h6v1h-6zM657 631h9v1h-9zM738 631h6v1h-6zM661 632h9v1h-9zM735 632h7v1h-7zM665 633h9v1h-9zM733 633h6v1h-6zM669 634h9v1h-9zM729 634h7v1h-7zM673 635h9v1h-9zM725 635h9v1h-9zM677 636h9v1h-9zM721 636h9v1h-9zM681 637h9v1h-9zM717 637h9v1h-9zM685 638h11v1h-11zM711 638h11v1h-11zM689 639h29v1h-29zM695 640h17v1h-17z" fill="#ff0000" shape-rendering="crispEdges"/>
<path d="M171 654h1v1h-1zM170 655h1v1h-1zM172 655h2v1h-2zM169 656h1v1h-1zM174 656h2v1h-2zM185 656h4v1h-4zM168 657h1v1h-1zM176 657h2v1h-2zM181 657h4v1h-4zM189 657h2v1h-2zM167 658h1v1h-1zM178 658h3v1h-3zM191 658h3v1h-3zM167 659h1v1h-1zM194 659h3v1h-3zM166 660h1v1h-1zM197 660h2v1h-2zM165 661h1v1h-1zM199 661h3v1h-3zM11 662h2v1h-2zM164 662h1v1h-1zM202 662h2v1h-2zM9 663h2v1h-2zM13 663h2v1h-2zM163 663h1v1h-1zM204 663h1v1h-1zM8 664h1v1h-1zM15 664h3v1h-3zM162 664h1v1h-1zM205 664h1v1h-1zM847 664h5v1h-5zM7 665h1v1h-1zM18 665h2v1h-2zM161 665h1v1h-1zM206 665h1v1h-1zM843 665h4v1h-4zM5 666h2v1h-2zM20 666h2v1h-2zM161 666h1v1h-1zM207 666h1v1h-1zM842 666h1v1h-1zM4 667h1v1h-1zM22 667h2v1h-2zM160 667h1v1h-1zM207 667h1v1h-1zM842 667h1v1h-1zM3 668h1v1h-1zM24 668h2v1h-2zM159 668h1v1h-1zM208 668h1v1h-1zM841 668h1v1h-1zM26 669h2v1h-2zM158 669h1v1h-1zM209 669h1v1h-1zM840 669h1v1h-1zM28 670h2v1h-2zM157 670h1v1h-1zM210 670h1v1h-1zM763 670h2v1h-2zM840 670h1v1h-1zM30 671h1v1h-1zM157 671h1v1h-1zM211 671h1v1h-1zM763 671h1v1h-1zM765 671h2v1h-2zM839 671h1v1h-1zM31 672h2v1h-2zM156 672h1v1h-1zM212 672h2v1h-2zM258 672h10v1h-10zM762 672h1v1h-1zM767 672h3v1h-3zM838 672h1v1h-1zM33 673h2v1h-2zM155 673h1v1h-1zM214 673h2v1h-2zM255 673h3v1h-3zM268 673h1v1h-1zM762 673h1v1h-1zM770 673h2v1h-2zM838 673h1v1h-1zM35 674h4v1h-4zM155 674h1v1h-1zM216 674h2v1h-2zM253 674h2v1h-2zM268 674h1v1h-1zM761 674h1v1h-1zM772 674h1v1h-1zM837 674h1v1h-1zM39 675h6v1h-6zM71 675h6v1h-6zM154 675h1v1h-1zM218 675h2v1h-2zM251 675h2v1h-2zM269 675h1v1h-1zM761 675h1v1h-1zM773 675h1v1h-1zM836 675h1v1h-1zM45 676h4v1h-4zM65 676h6v1h-6zM77 676h2v1h-2zM154 676h1v1h-1zM220 676h2v1h-2zM250 676h1v1h-1zM269 676h1v1h-1zM760 676h1v1h-1zM773 676h1v1h-1zM836 676h1v1h-1zM49 677h6v1h-6zM61 677h4v1h-4zM79 677h3v1h-3zM154 677h1v1h-1zM222 677h1v1h-1zM249 677h1v1h-1zM270 677h1v1h-1zM760 677h1v1h-1zM774 677h1v1h-1zM834 677h2v1h-2zM55 678h6v1h-6zM82 678h2v1h-2zM153 678h1v1h-1zM223 678h2v1h-2zM248 678h1v1h-1zM270 678h1v1h-1zM760 678h1v1h-1zM775 678h1v1h-1zM832 678h2v1h-2zM84 679h1v1h-1zM153 679h1v1h-1zM225 679h2v1h-2zM247 679h1v1h-1zM271 679h1v1h-1zM759 679h1v1h-1zM776 679h1v1h-1zM830 679h2v1h-2zM85 680h2v1h-2zM153 680h1v1h-1zM227 680h10v1h-10zM246 680h1v1h-1zM271 680h1v1h-1zM759 680h1v1h-1zM777 680h1v1h-1zM828 680h2v1h-2zM87 681h1v1h-1zM152 681h1v1h-1zM237 681h2v1h-2zM245 681h1v1h-1zM272 681h1v1h-1zM758 681h1v1h-1zM777 681h1v1h-1zM827 681h1v1h-1zM88 682h1v1h-1zM152 682h1v1h-1zM239 682h3v1h-3zM244 682h1v1h-1zM272 682h1v1h-1zM758 682h1v1h-1zM778 682h1v1h-1zM825 682h2v1h-2zM89 683h2v1h-2zM152 683h1v1h-1zM242 683h2v1h-2zM273 683h1v1h-1zM758 683h1v1h-1zM779 683h1v1h-1zM811 683h2v1h-2zM823 683h2v1h-2zM91 684h1v1h-1zM151 684h1v1h-1zM273 684h1v1h-1zM757 684h1v1h-1zM780 684h1v1h-1zM809 684h2v1h-2zM813 684h2v1h-2zM822 684h1v1h-1zM92 685h1v1h-1zM151 685h1v1h-1zM274 685h1v1h-1zM757 685h1v1h-1zM780 685h1v1h-1zM808 685h1v1h-1zM815 685h3v1h-3zM820 685h2v1h-2zM92 686h1v1h-1zM150 686h1v1h-1zM274 686h1v1h-1zM756 686h1v1h-1zM781 686h1v1h-1zM807 686h1v1h-1zM818 686h2v1h-2zM93 687h1v1h-1zM150 687h1v1h-1zM275 687h1v1h-1zM756 687h1v1h-1zM781 687h1v1h-1zM805 687h2v1h-2zM93 688h1v1h-1zM150 688h1v1h-1zM275 688h1v1h-1zM755 688h1v1h-1zM782 688h1v1h-1zM804 688h1v1h-1zM94 689h1v1h-1zM149 689h1v1h-1zM276 689h1v1h-1zM754 689h2v1h-2zM782 689h1v1h-1zM803 689h1v1h-1zM95 690h1v1h-1zM149 690h1v1h-1zM276 690h1v1h-1zM752 690h2v1h-2zM783 690h1v1h-1zM802 690h1v1h-1zM95 691h1v1h-1zM149 691h1v1h-1zM277 691h1v1h-1zM514 691h2v1h-2zM750 691h2v1h-2zM784 691h1v1h-1zM801 691h1v1h-1zM96 692h1v1h-1zM148 692h1v1h-1zM277 692h1v1h-1zM511 692h3v1h-3zM516 692h1v1h-1zM748 692h2v1h-2zM784 692h1v1h-1zM800 692h1v1h-1zM97 693h1v1h-1zM148 693h1v1h-1zM278 693h1v1h-1zM509 693h2v1h-2zM516 693h1v1h-1zM743 693h5v1h-5zM785 693h1v1h-1zM799 693h1v1h-1zM97 694h1v1h-1zM148 694h1v1h-1zM278 694h1v1h-1zM507 694h2v1h-2zM517 694h1v1h-1zM739 694h4v1h-4zM785 694h1v1h-1zM799 694h1v1h-1zM98 695h1v1h-1zM147 695h1v1h-1zM279 695h1v1h-1zM506 695h1v1h-1zM517 695h1v1h-1zM739 695h1v1h-1zM786 695h1v1h-1zM798 695h1v1h-1zM98 696h1v1h-1zM147 696h1v1h-1zM280 696h1v1h-1zM505 696h1v1h-1zM518 696h1v1h-1zM738 696h1v1h-1zM786 696h1v1h-1zM797 696h1v1h-1zM99 697h1v1h-1zM147 697h1v1h-1zM280 697h1v1h-1zM504 697h1v1h-1zM518 697h1v1h-1zM738 697h1v1h-1zM787 697h4v1h-4zM796 697h1v1h-1zM100 698h1v1h-1zM146 698h1v1h-1zM281 698h1v1h-1zM503 698h1v1h-1zM519 698h1v1h-1zM737 698h1v1h-1zM791 698h5v1h-5zM100 699h1v1h-1zM146 699h1v1h-1zM281 699h1v1h-1zM503 699h1v1h-1zM519 699h1v1h-1zM737 699h1v1h-1zM101 700h1v1h-1zM145 700h1v1h-1zM282 700h1v1h-1zM502 700h1v1h-1zM520 700h1v1h-1zM736 700h1v1h-1zM101 701h1v1h-1zM145 701h1v1h-1zM282 701h1v1h-1zM501 701h1v1h-1zM520 701h1v1h-1zM736 701h1v1h-1zM102 702h1v1h-1zM144 702h1v1h-1zM283 702h1v1h-1zM500 702h1v1h-1zM521 702h1v1h-1zM735 702h1v1h-1zM102 703h1v1h-1zM144 703h1v1h-1zM284 703h1v1h-1zM499 703h1v1h-1zM521 703h1v1h-1zM735 703h1v1h-1zM103 704h1v1h-1zM143 704h1v1h-1zM285 704h1v1h-1zM497 704h2v1h-2zM522 704h1v1h-1zM735 704h1v1h-1zM104 705h1v1h-1zM143 705h1v1h-1zM286 705h1v1h-1zM495 705h2v1h-2zM522 705h1v1h-1zM734 705h1v1h-1zM104 706h1v1h-1zM142 706h1v1h-1zM287 706h1v1h-1zM494 706h1v1h-1zM523 706h1v1h-1zM734 706h1v1h-1zM105 707h1v1h-1zM142 707h1v1h-1zM287 707h1v1h-1zM492 707h2v1h-2zM523 707h1v1h-1zM733 707h1v1h-1zM105 708h1v1h-1zM141 708h1v1h-1zM288 708h1v1h-1zM491 708h1v1h-1zM524 708h1v1h-1zM733 708h1v1h-1zM106 709h1v1h-1zM141 709h1v1h-1zM289 709h1v1h-1zM490 709h1v1h-1zM524 709h1v1h-1zM732 709h1v1h-1zM106 710h1v1h-1zM140 710h1v1h-1zM290 710h1v1h-1zM490 710h1v1h-1zM525 710h1v1h-1zM732 710h1v1h-1zM107 711h1v1h-1zM140 711h1v1h-1zM291 711h1v1h-1zM489 711h1v1h-1zM525 711h1v1h-1zM731 711h1v1h-1zM107 712h1v1h-1zM139 712h1v1h-1zM292 712h1v1h-1zM488 712h1v1h-1zM526 712h1v1h-1zM731 712h1v1h-1zM108 713h1v1h-1zM138 713h1v1h-1zM293 713h1v1h-1zM488 713h1v1h-1zM526 713h1v1h-1zM730 713h1v1h-1zM108 714h1v1h-1zM138 714h1v1h-1zM293 714h1v1h-1zM487 714h1v1h-1zM526 714h1v1h-1zM729 714h1v1h-1zM109 715h1v1h-1zM137 715h1v1h-1zM294 715h1v1h-1zM486 715h1v1h-1zM527 715h1v1h-1zM728 715h1v1h-1zM109 716h1v1h-1zM136 716h1v1h-1zM295 716h1v1h-1zM417 716h11v1h-11zM486 716h1v1h-1zM527 716h1v1h-1zM727 716h1v1h-1zM110 717h1v1h-1zM136 717h1v1h-1zM296 717h1v1h-1zM413 717h4v1h-4zM428 717h1v1h-1zM485 717h1v1h-1zM528 717h1v1h-1zM726 717h1v1h-1zM110 718h1v1h-1zM135 718h1v1h-1zM297 718h1v1h-1zM411 718h2v1h-2zM429 718h1v1h-1zM484 718h1v1h-1zM528 718h1v1h-1zM725 718h1v1h-1zM111 719h1v1h-1zM134 719h1v1h-1zM297 719h1v1h-1zM410 719h1v1h-1zM430 719h1v1h-1zM484 719h1v1h-1zM528 719h1v1h-1zM724 719h1v1h-1zM111 720h1v1h-1zM134 720h1v1h-1zM298 720h1v1h-1zM409 720h1v1h-1zM431 720h2v1h-2zM483 720h1v1h-1zM529 720h1v1h-1zM723 720h1v1h-1zM112 721h1v1h-1zM133 721h1v1h-1zM299 721h1v1h-1zM407 721h2v1h-2zM433 721h1v1h-1zM482 721h1v1h-1zM529 721h1v1h-1zM722 721h1v1h-1zM112 722h1v1h-1zM132 722h1v1h-1zM300 722h1v1h-1zM406 722h1v1h-1zM434 722h1v1h-1zM481 722h1v1h-1zM530 722h1v1h-1zM722 722h1v1h-1zM113 723h1v1h-1zM132 723h1v1h-1zM300 723h1v1h-1zM405 723h1v1h-1zM435 723h1v1h-1zM480 723h1v1h-1zM530 723h1v1h-1zM721 723h1v1h-1zM113 724h1v1h-1zM130 724h2v1h-2zM301 724h1v1h-1zM404 724h1v1h-1zM436 724h1v1h-1zM479 724h1v1h-1zM531 724h1v1h-1zM721 724h1v1h-1zM114 725h1v1h-1zM128 725h2v1h-2zM301 725h1v1h-1zM403 725h1v1h-1zM436 725h1v1h-1zM479 725h1v1h-1zM531 725h1v1h-1zM720 725h1v1h-1zM114 726h1v1h-1zM126 726h2v1h-2zM302 726h1v1h-1zM402 726h1v1h-1zM437 726h1v1h-1zM478 726h1v1h-1zM531 726h1v1h-1zM720 726h1v1h-1zM115 727h1v1h-1zM124 727h2v1h-2zM302 727h1v1h-1zM401 727h1v1h-1zM437 727h1v1h-1zM477 727h1v1h-1zM532 727h1v1h-1zM719 727h1v1h-1zM115 728h9v1h-9zM303 728h1v1h-1zM399 728h2v1h-2zM438 728h1v1h-1zM476 728h1v1h-1zM532 728h1v1h-1zM718 728h1v1h-1zM303 729h1v1h-1zM398 729h1v1h-1zM439 729h1v1h-1zM475 729h1v1h-1zM532 729h1v1h-1zM718 729h1v1h-1zM304 730h1v1h-1zM397 730h1v1h-1zM439 730h1v1h-1zM474 730h1v1h-1zM533 730h1v1h-1zM717 730h1v1h-1zM304 731h1v1h-1zM338 731h2v1h-2zM396 731h1v1h-1zM440 731h1v1h-1zM473 731h1v1h-1zM533 731h1v1h-1zM717 731h1v1h-1zM305 732h1v1h-1zM336 732h2v1h-2zM340 732h1v1h-1zM395 732h1v1h-1zM441 732h1v1h-1zM473 732h1v1h-1zM534 732h1v1h-1zM610 732h2v1h-2zM716 732h1v1h-1zM305 733h1v1h-1zM334 733h2v1h-2zM341 733h1v1h-1zM394 733h1v1h-1zM441 733h1v1h-1zM472 733h1v1h-1zM534 733h1v1h-1zM608 733h2v1h-2zM612 733h1v1h-1zM716 733h1v1h-1zM306 734h1v1h-1zM332 734h2v1h-2zM342 734h1v1h-1zM393 734h1v1h-1zM442 734h1v1h-1zM471 734h1v1h-1zM534 734h1v1h-1zM606 734h2v1h-2zM613 734h1v1h-1zM707 734h9v1h-9zM306 735h1v1h-1zM330 735h2v1h-2zM343 735h1v1h-1zM393 735h1v1h-1zM442 735h1v1h-1zM470 735h1v1h-1zM535 735h1v1h-1zM604 735h2v1h-2zM614 735h1v1h-1zM706 735h1v1h-1zM307 736h1v1h-1zM328 736h2v1h-2zM343 736h1v1h-1zM392 736h1v1h-1zM443 736h1v1h-1zM469 736h1v1h-1zM535 736h1v1h-1zM603 736h1v1h-1zM615 736h1v1h-1zM706 736h1v1h-1zM307 737h1v1h-1zM326 737h2v1h-2zM344 737h1v1h-1zM375 737h5v1h-5zM391 737h1v1h-1zM444 737h2v1h-2zM469 737h1v1h-1zM535 737h1v1h-1zM602 737h1v1h-1zM616 737h1v1h-1zM705 737h1v1h-1zM308 738h1v1h-1zM324 738h2v1h-2zM345 738h1v1h-1zM371 738h4v1h-4zM380 738h2v1h-2zM390 738h1v1h-1zM446 738h1v1h-1zM468 738h1v1h-1zM536 738h1v1h-1zM563 738h2v1h-2zM601 738h1v1h-1zM617 738h1v1h-1zM704 738h1v1h-1zM309 739h1v1h-1zM323 739h1v1h-1zM346 739h1v1h-1zM369 739h2v1h-2zM382 739h1v1h-1zM389 739h1v1h-1zM447 739h2v1h-2zM467 739h1v1h-1zM536 739h1v1h-1zM562 739h1v1h-1zM565 739h4v1h-4zM600 739h1v1h-1zM618 739h1v1h-1zM667 739h2v1h-2zM703 739h1v1h-1zM310 740h1v1h-1zM321 740h2v1h-2zM347 740h2v1h-2zM368 740h1v1h-1zM383 740h2v1h-2zM389 740h1v1h-1zM449 740h2v1h-2zM465 740h2v1h-2zM536 740h1v1h-1zM561 740h1v1h-1zM569 740h3v1h-3zM599 740h1v1h-1zM619 740h2v1h-2zM665 740h2v1h-2zM669 740h4v1h-4zM703 740h1v1h-1zM311 741h1v1h-1zM320 741h1v1h-1zM349 741h2v1h-2zM367 741h1v1h-1zM385 741h2v1h-2zM388 741h1v1h-1zM451 741h1v1h-1zM464 741h1v1h-1zM537 741h1v1h-1zM559 741h2v1h-2zM572 741h2v1h-2zM598 741h1v1h-1zM621 741h4v1h-4zM664 741h1v1h-1zM673 741h3v1h-3zM702 741h1v1h-1zM312 742h1v1h-1zM319 742h1v1h-1zM351 742h3v1h-3zM365 742h2v1h-2zM387 742h1v1h-1zM452 742h2v1h-2zM463 742h1v1h-1zM537 742h1v1h-1zM558 742h1v1h-1zM574 742h2v1h-2zM597 742h1v1h-1zM625 742h3v1h-3zM663 742h1v1h-1zM676 742h1v1h-1zM701 742h1v1h-1zM313 743h1v1h-1zM317 743h2v1h-2zM354 743h5v1h-5zM364 743h1v1h-1zM454 743h2v1h-2zM461 743h2v1h-2zM538 743h1v1h-1zM557 743h1v1h-1zM576 743h2v1h-2zM596 743h1v1h-1zM628 743h1v1h-1zM661 743h2v1h-2zM677 743h1v1h-1zM700 743h1v1h-1zM314 744h1v1h-1zM316 744h1v1h-1zM359 744h5v1h-5zM456 744h2v1h-2zM460 744h1v1h-1zM538 744h1v1h-1zM556 744h1v1h-1zM578 744h2v1h-2zM595 744h1v1h-1zM629 744h1v1h-1zM660 744h1v1h-1zM678 744h1v1h-1zM700 744h1v1h-1zM315 745h1v1h-1zM458 745h2v1h-2zM538 745h1v1h-1zM554 745h2v1h-2zM580 745h1v1h-1zM593 745h2v1h-2zM630 745h1v1h-1zM659 745h1v1h-1zM679 745h1v1h-1zM699 745h1v1h-1zM539 746h1v1h-1zM551 746h3v1h-3zM581 746h2v1h-2zM592 746h1v1h-1zM631 746h2v1h-2zM658 746h1v1h-1zM680 746h1v1h-1zM697 746h2v1h-2zM539 747h4v1h-4zM549 747h2v1h-2zM583 747h1v1h-1zM591 747h1v1h-1zM633 747h1v1h-1zM657 747h1v1h-1zM681 747h1v1h-1zM695 747h2v1h-2zM543 748h6v1h-6zM584 748h1v1h-1zM589 748h2v1h-2zM634 748h1v1h-1zM655 748h2v1h-2zM682 748h1v1h-1zM694 748h1v1h-1zM585 749h2v1h-2zM588 749h1v1h-1zM635 749h4v1h-4zM654 749h1v1h-1zM683 749h4v1h-4zM692 749h2v1h-2zM587 750h1v1h-1zM639 750h6v1h-6zM653 750h1v1h-1zM687 750h5v1h-5zM645 751h4v1h-4zM652 751h1v1h-1zM649 752h3v1h-3z" fill="#20b2aa" shape-rendering="crispEdges"/>
<path d="M187 656h3v1h-3zM181 657h3v1h-3zM193 657h3v1h-3zM199 658h2v1h-2zM177 659h1v1h-1zM201 659h1v1h-1zM175 660h2v1h-2zM205 660h1v1h-1zM206 661h1v1h-1zM207 662h1v1h-1zM10 663h2v1h-2zM171 663h1v1h-1zM9 664h1v1h-1zM15 664h2v1h-2zM170 664h1v1h-1zM211 664h1v1h-1zM5 665h1v1h-1zM17 665h1v1h-1zM21 665h3v1h-3zM27 665h1v1h-1zM170 665h1v1h-1zM212 665h2v1h-2zM3 666h2v1h-2zM28 666h2v1h-2zM33 668h1v1h-1zM217 668h2v1h-2zM851 668h1v1h-1zM34 669h2v1h-2zM168 669h1v1h-1zM219 669h1v1h-1zM167 670h1v1h-1zM39 671h3v1h-3zM166 671h1v1h-1zM847 671h1v1h-1zM223 672h1v1h-1zM845 672h2v1h-2zM45 673h2v1h-2zM224 673h1v1h-1zM266 673h2v1h-2zM47 674h1v1h-1zM225 674h1v1h-1zM265 674h1v1h-1zM51 675h3v1h-3zM164 675h1v1h-1zM271 675h1v1h-1zM57 676h3v1h-3zM71 676h1v1h-1zM75 676h3v1h-3zM81 676h3v1h-3zM164 676h1v1h-1zM229 676h2v1h-2zM260 676h2v1h-2zM272 676h2v1h-2zM774 676h3v1h-3zM780 676h1v1h-1zM841 676h1v1h-1zM63 677h3v1h-3zM69 677h2v1h-2zM163 677h1v1h-1zM231 677h1v1h-1zM259 677h1v1h-1zM781 677h1v1h-1zM839 677h2v1h-2zM87 678h3v1h-3zM235 678h2v1h-2zM253 678h3v1h-3zM770 678h1v1h-1zM782 678h1v1h-1zM237 679h1v1h-1zM249 679h1v1h-1zM277 679h1v1h-1zM769 679h1v1h-1zM241 680h1v1h-1zM247 680h2v1h-2zM277 680h1v1h-1zM768 680h1v1h-1zM93 681h1v1h-1zM161 681h1v1h-1zM242 681h2v1h-2zM278 681h1v1h-1zM833 681h3v1h-3zM94 682h1v1h-1zM161 682h1v1h-1zM785 682h1v1h-1zM829 682h1v1h-1zM95 683h1v1h-1zM160 683h1v1h-1zM764 683h1v1h-1zM786 683h1v1h-1zM827 683h2v1h-2zM763 684h1v1h-1zM787 684h1v1h-1zM823 684h1v1h-1zM281 685h1v1h-1zM762 685h1v1h-1zM821 685h2v1h-2zM99 686h1v1h-1zM282 686h1v1h-1zM100 687h1v1h-1zM158 687h1v1h-1zM283 687h1v1h-1zM816 687h2v1h-2zM100 688h1v1h-1zM158 688h1v1h-1zM791 688h1v1h-1zM815 688h1v1h-1zM157 689h1v1h-1zM758 689h1v1h-1zM792 689h1v1h-1zM757 690h1v1h-1zM793 690h1v1h-1zM811 690h1v1h-1zM285 691h1v1h-1zM756 691h1v1h-1zM809 691h2v1h-2zM103 692h1v1h-1zM286 692h1v1h-1zM104 693h1v1h-1zM155 693h1v1h-1zM287 693h1v1h-1zM797 693h2v1h-2zM105 694h1v1h-1zM155 694h1v1h-1zM799 694h1v1h-1zM804 694h2v1h-2zM155 695h1v1h-1zM752 695h1v1h-1zM803 695h1v1h-1zM518 696h1v1h-1zM751 696h1v1h-1zM289 697h1v1h-1zM513 697h2v1h-2zM519 697h2v1h-2zM750 697h1v1h-1zM108 698h1v1h-1zM290 698h1v1h-1zM512 698h1v1h-1zM524 698h1v1h-1zM108 699h1v1h-1zM153 699h1v1h-1zM290 699h1v1h-1zM525 699h1v1h-1zM109 700h1v1h-1zM152 700h1v1h-1zM508 700h1v1h-1zM525 700h1v1h-1zM152 701h1v1h-1zM507 701h1v1h-1zM746 701h1v1h-1zM506 702h1v1h-1zM745 702h1v1h-1zM293 703h1v1h-1zM744 703h1v1h-1zM111 704h1v1h-1zM294 704h1v1h-1zM529 704h1v1h-1zM111 705h1v1h-1zM150 705h1v1h-1zM295 705h1v1h-1zM529 705h1v1h-1zM112 706h1v1h-1zM149 706h1v1h-1zM503 706h1v1h-1zM530 706h1v1h-1zM149 707h1v1h-1zM502 707h1v1h-1zM741 707h1v1h-1zM501 708h1v1h-1zM740 708h1v1h-1zM298 709h1v1h-1zM739 709h1v1h-1zM114 710h1v1h-1zM298 710h1v1h-1zM532 710h1v1h-1zM114 711h1v1h-1zM147 711h1v1h-1zM299 711h1v1h-1zM533 711h1v1h-1zM115 712h1v1h-1zM146 712h1v1h-1zM497 712h1v1h-1zM533 712h1v1h-1zM145 713h1v1h-1zM496 713h1v1h-1zM737 713h1v1h-1zM495 714h1v1h-1zM736 714h1v1h-1zM302 715h1v1h-1zM735 715h1v1h-1zM118 716h1v1h-1zM302 716h1v1h-1zM428 716h1v1h-1zM535 716h1v1h-1zM119 717h1v1h-1zM142 717h1v1h-1zM303 717h1v1h-1zM423 717h2v1h-2zM429 717h2v1h-2zM535 717h1v1h-1zM120 718h1v1h-1zM141 718h1v1h-1zM422 718h1v1h-1zM434 718h2v1h-2zM492 718h1v1h-1zM536 718h1v1h-1zM141 719h1v1h-1zM436 719h1v1h-1zM491 719h1v1h-1zM733 719h1v1h-1zM417 720h2v1h-2zM490 720h1v1h-1zM732 720h1v1h-1zM306 721h1v1h-1zM416 721h1v1h-1zM732 721h1v1h-1zM123 722h1v1h-1zM137 722h1v1h-1zM306 722h1v1h-1zM440 722h1v1h-1zM537 722h1v1h-1zM124 723h2v1h-2zM136 723h1v1h-1zM307 723h1v1h-1zM441 723h1v1h-1zM538 723h1v1h-1zM135 724h1v1h-1zM412 724h1v1h-1zM442 724h1v1h-1zM487 724h1v1h-1zM538 724h1v1h-1zM411 725h1v1h-1zM487 725h1v1h-1zM727 725h2v1h-2zM129 726h2v1h-2zM410 726h1v1h-1zM486 726h1v1h-1zM726 726h1v1h-1zM131 727h1v1h-1zM310 727h1v1h-1zM311 728h1v1h-1zM446 728h1v1h-1zM540 728h1v1h-1zM311 729h1v1h-1zM447 729h1v1h-1zM541 729h1v1h-1zM406 730h1v1h-1zM447 730h1v1h-1zM483 730h1v1h-1zM541 730h1v1h-1zM722 730h1v1h-1zM405 731h1v1h-1zM482 731h1v1h-1zM721 731h1v1h-1zM404 732h1v1h-1zM481 732h1v1h-1zM720 732h1v1h-1zM314 733h1v1h-1zM315 734h1v1h-1zM400 734h1v1h-1zM451 734h1v1h-1zM544 734h1v1h-1zM316 735h1v1h-1zM338 735h3v1h-3zM344 735h3v1h-3zM398 735h2v1h-2zM452 735h1v1h-1zM544 735h1v1h-1zM350 736h1v1h-1zM453 736h1v1h-1zM477 736h1v1h-1zM545 736h1v1h-1zM615 736h1v1h-1zM619 736h2v1h-2zM717 736h1v1h-1zM334 737h1v1h-1zM351 737h2v1h-2zM393 737h2v1h-2zM476 737h1v1h-1zM613 737h2v1h-2zM621 737h1v1h-1zM716 737h1v1h-1zM320 738h1v1h-1zM332 738h2v1h-2zM392 738h1v1h-1zM475 738h1v1h-1zM609 738h1v1h-1zM625 738h3v1h-3zM715 738h1v1h-1zM321 739h2v1h-2zM327 739h2v1h-2zM356 739h2v1h-2zM386 739h3v1h-3zM457 739h1v1h-1zM608 739h1v1h-1zM326 740h1v1h-1zM358 740h1v1h-1zM380 740h3v1h-3zM458 740h1v1h-1zM470 740h2v1h-2zM547 740h1v1h-1zM607 740h1v1h-1zM711 740h1v1h-1zM374 741h3v1h-3zM459 741h1v1h-1zM469 741h1v1h-1zM548 741h1v1h-1zM571 741h3v1h-3zM577 741h3v1h-3zM631 741h2v1h-2zM674 741h2v1h-2zM710 741h1v1h-1zM362 742h3v1h-3zM368 742h3v1h-3zM463 742h3v1h-3zM549 742h1v1h-1zM567 742h1v1h-1zM633 742h1v1h-1zM673 742h1v1h-1zM679 742h2v1h-2zM709 742h1v1h-1zM565 743h2v1h-2zM583 743h1v1h-1zM602 743h2v1h-2zM681 743h1v1h-1zM584 744h2v1h-2zM601 744h1v1h-1zM637 744h1v1h-1zM668 744h2v1h-2zM685 744h1v1h-1zM705 744h1v1h-1zM553 745h1v1h-1zM559 745h3v1h-3zM589 745h2v1h-2zM597 745h1v1h-1zM638 745h2v1h-2zM667 745h1v1h-1zM686 745h2v1h-2zM703 745h2v1h-2zM554 746h1v1h-1zM591 746h1v1h-1zM595 746h2v1h-2zM555 747h1v1h-1zM643 747h2v1h-2zM662 747h2v1h-2zM691 747h3v1h-3zM645 748h1v1h-1zM661 748h1v1h-1zM697 748h3v1h-3zM649 749h1v1h-1zM655 749h3v1h-3zM650 750h2v1h-2z" fill="#ff0000" shape-rendering="crispEdges"/>
<g fill="none" stroke="#000" stroke-width="1" shape-rendering="crispEdges">
<rect x="2.5" y="2.5" width="961" height="520"/>
<rect x="2.5" y="524.5" width="961" height="124"/>
<rect x="2.5" y="650.5" width="961" height="112"/>
</g>
<rect x="963" y="357" width="1" height="1" fill="#c0c0c0"/>
<rect x="0" y="0" width="2" height="783" fill="#fff"/>
<g shape-rendering="crispEdges" stroke="#000" stroke-width="1">
<line x1="964" y1="24.5" x2="966" y2="24.5"/>
<line x1="964" y1="57.5" x2="966" y2="57.5"/>
<line x1="964" y1="90.5" x2="966" y2="90.5"/>
<line x1="964" y1="123.5" x2="966" y2="123.5"/>
<line x1="964" y1="156.5" x2="966" y2="156.5"/>
<line x1="964" y1="189.5" x2="966" y2="189.5"/>
<line x1="964" y1="222.5" x2="966" y2="222.5"/>
<line x1="964" y1="255.5" x2="966" y2="255.5"/>
<line x1="964" y1="288.5" x2="966" y2="288.5"/>
<line x1="964" y1="321.5" x2="966" y2="321.5"/>
<line x1="964" y1="354.5" x2="966" y2="354.5"/>
<line x1="964" y1="387.5" x2="966" y2="387.5"/>
<line x1="964" y1="420.5" x2="966" y2="420.5"/>
<line x1="964" y1="453.5" x2="966" y2="453.5"/>
<line x1="964" y1="486.5" x2="966" y2="486.5"/>
<line x1="964" y1="519.5" x2="966" y2="519.5"/>
<line x1="964" y1="526.5" x2="966" y2="526.5"/>
<line x1="964" y1="579.5" x2="966" y2="579.5"/>
<line x1="964" y1="647.5" x2="966" y2="647.5"/>
<line x1="964" y1="652.5" x2="966" y2="652.5"/>
<line x1="3.5" y1="763" x2="3.5" y2="766"/>
<line x1="67.5" y1="763" x2="67.5" y2="766"/>
<line x1="131.5" y1="763" x2="131.5" y2="766"/>
<line x1="195.5" y1="763" x2="195.5" y2="766"/>
<line x1="259.5" y1="763" x2="259.5" y2="766"/>
<line x1="323.5" y1="763" x2="323.5" y2="766"/>
<line x1="387.5" y1="763" x2="387.5" y2="766"/>
<line x1="451.5" y1="763" x2="451.5" y2="766"/>
<line x1="515.5" y1="763" x2="515.5" y2="766"/>
<line x1="579.5" y1="763" x2="579.5" y2="766"/>
<line x1="643.5" y1="763" x2="643.5" y2="766"/>
<line x1="707.5" y1="763" x2="707.5" y2="766"/>
<line x1="771.5" y1="763" x2="771.5" y2="766"/>
<line x1="835.5" y1="763" x2="835.5" y2="766"/>
</g>
<g style="font-family:'Liberation Sans',Arial,sans-serif;font-size:9.8px;stroke-width:0.35px" fill="#000" stroke="#000">
<text x="969.40" y="28" textLength="32.30" lengthAdjust="spacingAndGlyphs" >1.15025</text>
<text x="969.40" y="61" textLength="32.30" lengthAdjust="spacingAndGlyphs" >1.14440</text>
<text x="969.40" y="94" textLength="32.30" lengthAdjust="spacingAndGlyphs" >1.13855</text>
<text x="969.40" y="127" textLength="32.30" lengthAdjust="spacingAndGlyphs" >1.13255</text>
<text x="969.40" y="160" textLength="32.30" lengthAdjust="spacingAndGlyphs" >1.12670</text>
<text x="969.40" y="193" textLength="32.30" lengthAdjust="spacingAndGlyphs" >1.12085</text>
<text x="969.40" y="226" textLength="32.29" lengthAdjust="spacingAndGlyphs" >1.11485</text>
<text x="969.40" y="259" textLength="32.30" lengthAdjust="spacingAndGlyphs" >1.10900</text>
<text x="969.40" y="292" textLength="32.30" lengthAdjust="spacingAndGlyphs" >1.10300</text>
<text x="969.40" y="325" textLength="32.30" lengthAdjust="spacingAndGlyphs" >1.09715</text>
<text x="969.40" y="358" textLength="32.30" lengthAdjust="spacingAndGlyphs" >1.09130</text>
<text x="969.40" y="391" textLength="32.30" lengthAdjust="spacingAndGlyphs" >1.08545</text>
<text x="969.40" y="424" textLength="32.30" lengthAdjust="spacingAndGlyphs" >1.07955</text>
<text x="969.40" y="457" textLength="32.30" lengthAdjust="spacingAndGlyphs" >1.07350</text>
<text x="969.40" y="490" textLength="32.30" lengthAdjust="spacingAndGlyphs" >1.06760</text>
<text x="969.40" y="523" textLength="32.30" lengthAdjust="spacingAndGlyphs" >1.06175</text>
</g>
<rect x="965" y="352" width="41" height="11" fill="#000"/>
<g style="font-family:'Liberation Sans',Arial,sans-serif;font-size:9.8px;stroke-width:0.35px" fill="#fff" stroke="#fff"><text x="969.40" y="361" textLength="32.30" lengthAdjust="spacingAndGlyphs" >1.09078</text></g>
<rect x="965" y="255" width="41" height="11" fill="#90ee90"/>
<rect x="965" y="269" width="41" height="11" fill="#90ee90"/>
<rect x="965" y="278" width="41" height="11" fill="#90ee90"/>
<rect x="965" y="306" width="41" height="11" fill="#90ee90"/>
<rect x="965" y="337" width="41" height="11" fill="#90ee90"/>
<rect x="965" y="349" width="41" height="11" fill="#90ee90"/>
<rect x="965" y="362" width="41" height="11" fill="#90ee90"/>
<rect x="965" y="381" width="41" height="11" fill="#90ee90"/>
<rect x="965" y="398" width="41" height="11" fill="#90ee90"/>
<rect x="965" y="412" width="41" height="11" fill="#90ee90"/>
<rect x="965" y="436" width="41" height="11" fill="#90ee90"/>
<rect x="965" y="452" width="41" height="11" fill="#90ee90"/>
<rect x="965" y="488" width="41" height="11" fill="#90ee90"/>
<rect x="965" y="503" width="41" height="11" fill="#90ee90"/>
<g style="font-family:'Liberation Sans',Arial,sans-serif;font-size:9.8px;stroke-width:0.35px" fill="#fff" stroke="#fff">
<text x="969.60" y="263.6" textLength="32.30" lengthAdjust="spacingAndGlyphs" >1.10800</text>
<text x="969.60" y="277.6" textLength="32.30" lengthAdjust="spacingAndGlyphs" >1.10545</text>
<text x="969.60" y="286.6" textLength="32.30" lengthAdjust="spacingAndGlyphs" >1.10385</text>
<text x="969.60" y="314.6" textLength="32.30" lengthAdjust="spacingAndGlyphs" >1.09875</text>
<text x="969.60" y="345.6" textLength="32.30" lengthAdjust="spacingAndGlyphs" >1.09330</text>
<text x="969.60" y="357.6" textLength="32.29" lengthAdjust="spacingAndGlyphs" >1.09110</text>
<text x="969.60" y="370.6" textLength="32.30" lengthAdjust="spacingAndGlyphs" >1.08875</text>
<text x="969.60" y="389.6" textLength="32.30" lengthAdjust="spacingAndGlyphs" >1.08535</text>
<text x="969.60" y="406.6" textLength="32.30" lengthAdjust="spacingAndGlyphs" >1.08230</text>
<text x="969.60" y="420.6" textLength="32.30" lengthAdjust="spacingAndGlyphs" >1.07980</text>
<text x="969.60" y="444.6" textLength="32.30" lengthAdjust="spacingAndGlyphs" >1.07555</text>
<text x="969.60" y="460.6" textLength="32.30" lengthAdjust="spacingAndGlyphs" >1.07265</text>
<text x="969.60" y="496.6" textLength="32.30" lengthAdjust="spacingAndGlyphs" >1.06620</text>
<text x="969.60" y="511.6" textLength="32.30" lengthAdjust="spacingAndGlyphs" >1.06355</text>
</g>
<g style="font-family:'Liberation Sans',Arial,sans-serif;font-size:9.8px;stroke-width:0.35px" fill="#000" stroke="#000">
<text x="967.20" y="535" textLength="32.70" lengthAdjust="spacingAndGlyphs" >0.00974</text>
<text x="967.30" y="583" textLength="17.69" lengthAdjust="spacingAndGlyphs" >0.00</text>
<text x="967.00" y="645" textLength="36.00" lengthAdjust="spacingAndGlyphs" >-0.01259</text>
<text x="967.50" y="661" textLength="14.32" lengthAdjust="spacingAndGlyphs" >100</text>
<text x="966.20" y="677" textLength="9.78" lengthAdjust="spacingAndGlyphs" >80</text>
<text x="966.20" y="743" textLength="9.78" lengthAdjust="spacingAndGlyphs" >20</text>
<text x="967.50" y="758.5" textLength="4.43" lengthAdjust="spacingAndGlyphs" >0</text>
<text x="2.10" y="775" textLength="46.46" lengthAdjust="spacingAndGlyphs" >2 Mar 2020</text>
<text x="66.20" y="775" textLength="49.43" lengthAdjust="spacingAndGlyphs" >3 Mar 20:00</text>
<text x="130.20" y="775" textLength="49.43" lengthAdjust="spacingAndGlyphs" >5 Mar 04:00</text>
<text x="194.20" y="775" textLength="49.43" lengthAdjust="spacingAndGlyphs" >6 Mar 12:00</text>
<text x="258.20" y="775" textLength="49.43" lengthAdjust="spacingAndGlyphs" >9 Mar 20:00</text>
<text x="322.20" y="775" textLength="53.96" lengthAdjust="spacingAndGlyphs" >11 Mar 04:00</text>
<text x="386.20" y="775" textLength="53.97" lengthAdjust="spacingAndGlyphs" >12 Mar 12:00</text>
<text x="450.20" y="775" textLength="53.97" lengthAdjust="spacingAndGlyphs" >13 Mar 20:00</text>
<text x="514.20" y="775" textLength="53.97" lengthAdjust="spacingAndGlyphs" >17 Mar 04:00</text>
<text x="578.20" y="775" textLength="53.97" lengthAdjust="spacingAndGlyphs" >18 Mar 12:00</text>
<text x="642.20" y="775" textLength="53.97" lengthAdjust="spacingAndGlyphs" >19 Mar 20:00</text>
<text x="706.20" y="775" textLength="53.97" lengthAdjust="spacingAndGlyphs" >23 Mar 04:00</text>
<text x="770.20" y="775" textLength="53.97" lengthAdjust="spacingAndGlyphs" >24 Mar 12:00</text>
<text x="834.20" y="775" textLength="53.97" lengthAdjust="spacingAndGlyphs" >25 Mar 20:00</text>
<text x="18.60" y="14" textLength="53.28" lengthAdjust="spacingAndGlyphs" >EURUSD,H4</text>
<text x="78.60" y="14" textLength="32.10" lengthAdjust="spacingAndGlyphs" >1.09062</text>
<text x="114.30" y="14" textLength="32.50" lengthAdjust="spacingAndGlyphs" >1.09191</text>
<text x="150.80" y="14" textLength="31.70" lengthAdjust="spacingAndGlyphs" >1.08912</text>
<text x="186.50" y="14" textLength="32.10" lengthAdjust="spacingAndGlyphs" >1.09078</text>
<text x="7.80" y="537" textLength="64.99" lengthAdjust="spacingAndGlyphs" >MACD(12,26,9)</text>
<text x="76.80" y="537" textLength="36.94" lengthAdjust="spacingAndGlyphs" >0.000948</text>
<text x="117.30" y="537" textLength="40.03" lengthAdjust="spacingAndGlyphs" >-0.001419</text>
<text x="7.80" y="663" textLength="53.93" lengthAdjust="spacingAndGlyphs" >Stoch(13,3,3)</text>
<text x="65.30" y="663" textLength="32.50" lengthAdjust="spacingAndGlyphs" >88.3427</text>
<text x="100.50" y="663" textLength="32.90" lengthAdjust="spacingAndGlyphs" >84.2360</text>
</g>
<path d="M6 9h7v1h-1v1h-1v1h-1v1h-1v-1h-1v-1h-1v-1h-1z" fill="#000" shape-rendering="crispEdges"/>
</svg>
</body></html>
